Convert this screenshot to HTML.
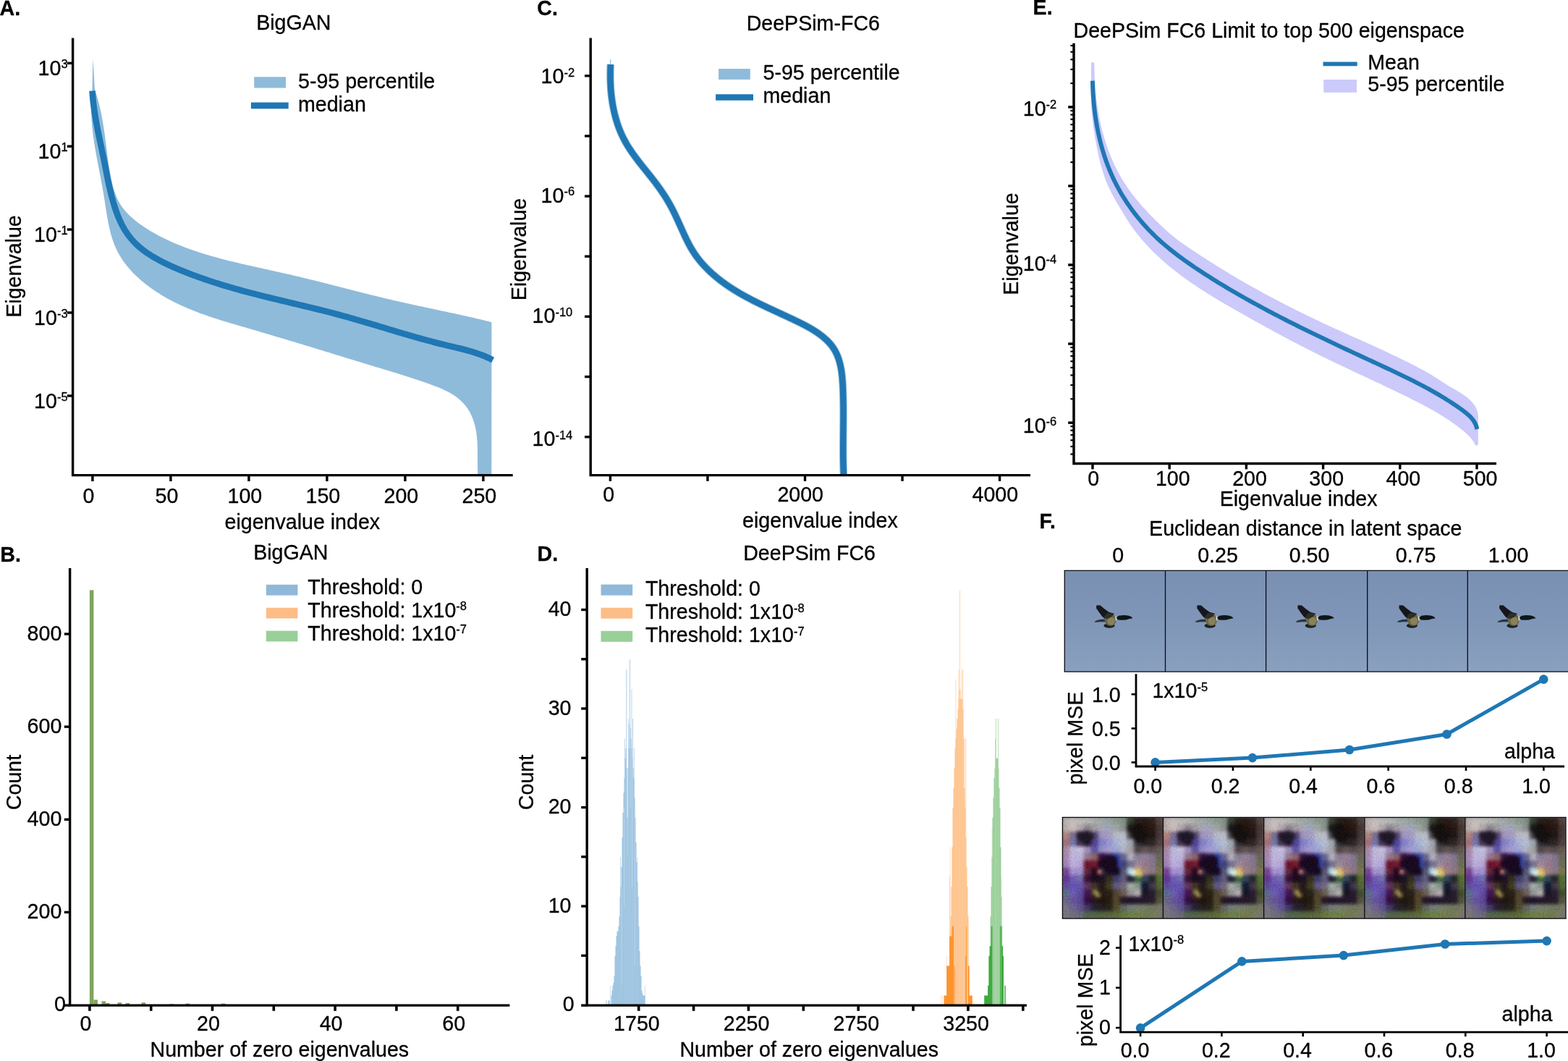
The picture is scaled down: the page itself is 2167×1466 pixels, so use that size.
<!DOCTYPE html>
<html lang="en"><head><meta charset="utf-8"><title>Figure: Hessian eigenvalue spectra</title>
<style>html,body{margin:0;padding:0;background:#fff}body{width:2167px;height:1466px;overflow:hidden}svg{display:block}text{font-family:"Liberation Sans",Arial,Helvetica,sans-serif;font-size:28.6px;fill:#000;stroke:#000;stroke-width:0.3px;stroke-linejoin:round}</style>
</head><body>
<svg xmlns="http://www.w3.org/2000/svg" width="2167" height="1466" viewBox="0 0 2167 1466">
<rect width="2167" height="1466" fill="#fff"/>
<defs>
<linearGradient id="sky" x1="0" y1="0" x2="0" y2="1"><stop offset="0" stop-color="#7a90b3"/><stop offset="0.5" stop-color="#8096b8"/><stop offset="1" stop-color="#8aa0be"/></linearGradient>
<filter id="b1" x="-20%" y="-20%" width="140%" height="140%"><feGaussianBlur stdDeviation="0.55"/></filter>
<g id="bird" filter="url(#b1)">
<path d="M1512.2 859.8L1514.6 857.4L1520 856.1L1527 855.6L1527.5 859.2L1521 859.2L1515.5 859.8Z" fill="#2a3438"/>
<path d="M1515.4 836.3L1520.8 836.6L1526 841L1532.5 845.8L1539.5 847.8L1538 853.5L1528 856L1523 851.4L1518.6 845.4L1515 840.2Z" fill="#15181c"/>
<ellipse cx="1533" cy="864.6" rx="7.6" ry="3.2" fill="#1a2022"/>
<ellipse cx="1534.8" cy="856.6" rx="8.2" ry="8.2" fill="#6a6548"/>
<ellipse cx="1535.6" cy="858" rx="5.2" ry="5.6" fill="#89805c"/>
<path d="M1525.6 852.6L1530 847L1539.5 847.8L1537 851.8L1530 855.6Z" fill="#2e2f28"/>
<path d="M1541.3 851.2L1542.9 851.7L1543 857.6L1541.6 857.2Z" fill="#e4e6d2"/>
<path d="M1542.9 853.2L1546 850.7L1552.5 849.9L1559 850.4L1563.2 852.1L1565.5 854.3L1561 855.1L1556 856.5L1550.7 856.8L1545 856.5Z" fill="#101318"/>
</g>
<filter id="gb" x="-5%" y="-5%" width="110%" height="110%" color-interpolation-filters="sRGB"><feGaussianBlur in="SourceGraphic" stdDeviation="1.9" result="b"/><feTurbulence type="fractalNoise" baseFrequency="0.45" numOctaves="2" seed="7" result="n"/><feColorMatrix in="n" type="matrix" values="0.6 0.3 0.1 0 0  0.2 0.6 0.2 0 0  0.1 0.3 0.6 0 0  0 0 0 0 1" result="g"/><feComposite in="b" in2="g" operator="arithmetic" k1="0" k2="1" k3="0.22" k4="-0.11" result="c"/><feComponentTransfer in="c"><feFuncR type="gamma" exponent="1.3" amplitude="1" offset="0"/><feFuncG type="gamma" exponent="1.35" amplitude="1" offset="0"/><feFuncB type="gamma" exponent="1.25" amplitude="1" offset="0"/></feComponentTransfer></filter>
<clipPath id="gc"><rect x="1468.4" y="1129.4" width="139.0" height="139.8"/></clipPath>
<g id="gan" clip-path="url(#gc)">
<rect x="1468.4" y="1129.4" width="139.0" height="139.8" fill="#7b7390"/>
<g filter="url(#gb)">
<rect x="1460.4" y="1121.4" width="155.0" height="155.8" fill="#8a8690"/>
<rect x="1468.1" y="1129.1" width="10.53" height="10.59" fill="#c8c4c0"/>
<rect x="1478.03" y="1129.1" width="10.53" height="10.59" fill="#d0ccc8"/>
<rect x="1487.96" y="1129.1" width="10.53" height="10.59" fill="#cccac4"/>
<rect x="1497.89" y="1129.1" width="10.53" height="10.59" fill="#c4c8c0"/>
<rect x="1507.81" y="1129.1" width="10.53" height="10.59" fill="#b8c0b8"/>
<rect x="1517.74" y="1129.1" width="10.53" height="10.59" fill="#b0bcb4"/>
<rect x="1527.67" y="1129.1" width="10.53" height="10.59" fill="#a8b8ac"/>
<rect x="1537.6" y="1129.1" width="10.53" height="10.59" fill="#a0b0a0"/>
<rect x="1547.53" y="1129.1" width="10.53" height="10.59" fill="#98a898"/>
<rect x="1557.46" y="1129.1" width="10.53" height="10.59" fill="#4a5840"/>
<rect x="1567.39" y="1129.1" width="10.53" height="10.59" fill="#3c3428"/>
<rect x="1577.31" y="1129.1" width="10.53" height="10.59" fill="#3c3024"/>
<rect x="1587.24" y="1129.1" width="10.53" height="10.59" fill="#44382c"/>
<rect x="1597.17" y="1129.1" width="10.53" height="10.59" fill="#6a5e50"/>
<rect x="1468.1" y="1139.09" width="10.53" height="10.59" fill="#c8c0b8"/>
<rect x="1478.03" y="1139.09" width="10.53" height="10.59" fill="#d4ccc8"/>
<rect x="1487.96" y="1139.09" width="10.53" height="10.59" fill="#c0b8b8"/>
<rect x="1497.89" y="1139.09" width="10.53" height="10.59" fill="#a09ca0"/>
<rect x="1507.81" y="1139.09" width="10.53" height="10.59" fill="#b4b0b0"/>
<rect x="1517.74" y="1139.09" width="10.53" height="10.59" fill="#b8b8c4"/>
<rect x="1527.67" y="1139.09" width="10.53" height="10.59" fill="#b4b8c8"/>
<rect x="1537.6" y="1139.09" width="10.53" height="10.59" fill="#b0b8b0"/>
<rect x="1547.53" y="1139.09" width="10.53" height="10.59" fill="#a0a8a0"/>
<rect x="1557.46" y="1139.09" width="10.53" height="10.59" fill="#2c2c26"/>
<rect x="1567.39" y="1139.09" width="10.53" height="10.59" fill="#1c1a14"/>
<rect x="1577.31" y="1139.09" width="10.53" height="10.59" fill="#382418"/>
<rect x="1587.24" y="1139.09" width="10.53" height="10.59" fill="#3c2c24"/>
<rect x="1597.17" y="1139.09" width="10.53" height="10.59" fill="#5c5044"/>
<rect x="1468.1" y="1149.07" width="10.53" height="10.59" fill="#c0a090"/>
<rect x="1478.03" y="1149.07" width="10.53" height="10.59" fill="#9088a0"/>
<rect x="1487.96" y="1149.07" width="10.53" height="10.59" fill="#3a3040"/>
<rect x="1497.89" y="1149.07" width="10.53" height="10.59" fill="#2a2430"/>
<rect x="1507.81" y="1149.07" width="10.53" height="10.59" fill="#6a6080"/>
<rect x="1517.74" y="1149.07" width="10.53" height="10.59" fill="#b0aac8"/>
<rect x="1527.67" y="1149.07" width="10.53" height="10.59" fill="#b8b0cc"/>
<rect x="1537.6" y="1149.07" width="10.53" height="10.59" fill="#c4c8d0"/>
<rect x="1547.53" y="1149.07" width="10.53" height="10.59" fill="#c8ccd0"/>
<rect x="1557.46" y="1149.07" width="10.53" height="10.59" fill="#606460"/>
<rect x="1567.39" y="1149.07" width="10.53" height="10.59" fill="#1c1e18"/>
<rect x="1577.31" y="1149.07" width="10.53" height="10.59" fill="#2a221c"/>
<rect x="1587.24" y="1149.07" width="10.53" height="10.59" fill="#342a26"/>
<rect x="1597.17" y="1149.07" width="10.53" height="10.59" fill="#5e524a"/>
<rect x="1468.1" y="1159.06" width="10.53" height="10.59" fill="#b88888"/>
<rect x="1478.03" y="1159.06" width="10.53" height="10.59" fill="#8890b8"/>
<rect x="1487.96" y="1159.06" width="10.53" height="10.59" fill="#5a4c60"/>
<rect x="1497.89" y="1159.06" width="10.53" height="10.59" fill="#3a2c40"/>
<rect x="1507.81" y="1159.06" width="10.53" height="10.59" fill="#6860a8"/>
<rect x="1517.74" y="1159.06" width="10.53" height="10.59" fill="#9898d0"/>
<rect x="1527.67" y="1159.06" width="10.53" height="10.59" fill="#a8acd8"/>
<rect x="1537.6" y="1159.06" width="10.53" height="10.59" fill="#b8c4dc"/>
<rect x="1547.53" y="1159.06" width="10.53" height="10.59" fill="#c4ccd8"/>
<rect x="1557.46" y="1159.06" width="10.53" height="10.59" fill="#b0b8bc"/>
<rect x="1567.39" y="1159.06" width="10.53" height="10.59" fill="#484c4c"/>
<rect x="1577.31" y="1159.06" width="10.53" height="10.59" fill="#3c3632"/>
<rect x="1587.24" y="1159.06" width="10.53" height="10.59" fill="#443c36"/>
<rect x="1597.17" y="1159.06" width="10.53" height="10.59" fill="#665a52"/>
<rect x="1468.1" y="1169.04" width="10.53" height="10.59" fill="#b8a0b0"/>
<rect x="1478.03" y="1169.04" width="10.53" height="10.59" fill="#c8c8e0"/>
<rect x="1487.96" y="1169.04" width="10.53" height="10.59" fill="#d0cce4"/>
<rect x="1497.89" y="1169.04" width="10.53" height="10.59" fill="#b0a4c4"/>
<rect x="1507.81" y="1169.04" width="10.53" height="10.59" fill="#7870b0"/>
<rect x="1517.74" y="1169.04" width="10.53" height="10.59" fill="#a8a4d0"/>
<rect x="1527.67" y="1169.04" width="10.53" height="10.59" fill="#b4b0d8"/>
<rect x="1537.6" y="1169.04" width="10.53" height="10.59" fill="#b0b8d8"/>
<rect x="1547.53" y="1169.04" width="10.53" height="10.59" fill="#c0c4d0"/>
<rect x="1557.46" y="1169.04" width="10.53" height="10.59" fill="#b4b4b4"/>
<rect x="1567.39" y="1169.04" width="10.53" height="10.59" fill="#6a605c"/>
<rect x="1577.31" y="1169.04" width="10.53" height="10.59" fill="#7a7068"/>
<rect x="1587.24" y="1169.04" width="10.53" height="10.59" fill="#6c6860"/>
<rect x="1597.17" y="1169.04" width="10.53" height="10.59" fill="#7c7464"/>
<rect x="1468.1" y="1179.03" width="10.53" height="10.59" fill="#b8a0c0"/>
<rect x="1478.03" y="1179.03" width="10.53" height="10.59" fill="#ccc4e0"/>
<rect x="1487.96" y="1179.03" width="10.53" height="10.59" fill="#c8c4e0"/>
<rect x="1497.89" y="1179.03" width="10.53" height="10.59" fill="#a8909c"/>
<rect x="1507.81" y="1179.03" width="10.53" height="10.59" fill="#a08078"/>
<rect x="1517.74" y="1179.03" width="10.53" height="10.59" fill="#4a2450"/>
<rect x="1527.67" y="1179.03" width="10.53" height="10.59" fill="#5a3c78"/>
<rect x="1537.6" y="1179.03" width="10.53" height="10.59" fill="#4858a0"/>
<rect x="1547.53" y="1179.03" width="10.53" height="10.59" fill="#8080a0"/>
<rect x="1557.46" y="1179.03" width="10.53" height="10.59" fill="#c0c0c4"/>
<rect x="1567.39" y="1179.03" width="10.53" height="10.59" fill="#9c98a8"/>
<rect x="1577.31" y="1179.03" width="10.53" height="10.59" fill="#a898a8"/>
<rect x="1587.24" y="1179.03" width="10.53" height="10.59" fill="#9890a0"/>
<rect x="1597.17" y="1179.03" width="10.53" height="10.59" fill="#80806c"/>
<rect x="1468.1" y="1189.01" width="10.53" height="10.59" fill="#b09cc0"/>
<rect x="1478.03" y="1189.01" width="10.53" height="10.59" fill="#c8c0e0"/>
<rect x="1487.96" y="1189.01" width="10.53" height="10.59" fill="#c4b8dc"/>
<rect x="1497.89" y="1189.01" width="10.53" height="10.59" fill="#802840"/>
<rect x="1507.81" y="1189.01" width="10.53" height="10.59" fill="#8c3040"/>
<rect x="1517.74" y="1189.01" width="10.53" height="10.59" fill="#2a1030"/>
<rect x="1527.67" y="1189.01" width="10.53" height="10.59" fill="#1c0c28"/>
<rect x="1537.6" y="1189.01" width="10.53" height="10.59" fill="#141030"/>
<rect x="1547.53" y="1189.01" width="10.53" height="10.59" fill="#5a5c88"/>
<rect x="1557.46" y="1189.01" width="10.53" height="10.59" fill="#8a8aa0"/>
<rect x="1567.39" y="1189.01" width="10.53" height="10.59" fill="#b0a0a8"/>
<rect x="1577.31" y="1189.01" width="10.53" height="10.59" fill="#a8949c"/>
<rect x="1587.24" y="1189.01" width="10.53" height="10.59" fill="#9c90a0"/>
<rect x="1597.17" y="1189.01" width="10.53" height="10.59" fill="#808868"/>
<rect x="1468.1" y="1199" width="10.53" height="10.59" fill="#8a60a0"/>
<rect x="1478.03" y="1199" width="10.53" height="10.59" fill="#b8a8d8"/>
<rect x="1487.96" y="1199" width="10.53" height="10.59" fill="#b0a8d4"/>
<rect x="1497.89" y="1199" width="10.53" height="10.59" fill="#7a3c4c"/>
<rect x="1507.81" y="1199" width="10.53" height="10.59" fill="#3a1430"/>
<rect x="1517.74" y="1199" width="10.53" height="10.59" fill="#4a3c50"/>
<rect x="1527.67" y="1199" width="10.53" height="10.59" fill="#2a2030"/>
<rect x="1537.6" y="1199" width="10.53" height="10.59" fill="#201830"/>
<rect x="1547.53" y="1199" width="10.53" height="10.59" fill="#707088"/>
<rect x="1557.46" y="1199" width="10.53" height="10.59" fill="#c0e0e0"/>
<rect x="1567.39" y="1199" width="10.53" height="10.59" fill="#e0c880"/>
<rect x="1577.31" y="1199" width="10.53" height="10.59" fill="#b09890"/>
<rect x="1587.24" y="1199" width="10.53" height="10.59" fill="#a09098"/>
<rect x="1597.17" y="1199" width="10.53" height="10.59" fill="#909060"/>
<rect x="1468.1" y="1208.99" width="10.53" height="10.59" fill="#7a50a0"/>
<rect x="1478.03" y="1208.99" width="10.53" height="10.59" fill="#8878c0"/>
<rect x="1487.96" y="1208.99" width="10.53" height="10.59" fill="#8888b8"/>
<rect x="1497.89" y="1208.99" width="10.53" height="10.59" fill="#4a2448"/>
<rect x="1507.81" y="1208.99" width="10.53" height="10.59" fill="#2c1a2c"/>
<rect x="1517.74" y="1208.99" width="10.53" height="10.59" fill="#2e2432"/>
<rect x="1527.67" y="1208.99" width="10.53" height="10.59" fill="#4a4830"/>
<rect x="1537.6" y="1208.99" width="10.53" height="10.59" fill="#5a5a80"/>
<rect x="1547.53" y="1208.99" width="10.53" height="10.59" fill="#787890"/>
<rect x="1557.46" y="1208.99" width="10.53" height="10.59" fill="#3a3848"/>
<rect x="1567.39" y="1208.99" width="10.53" height="10.59" fill="#508050"/>
<rect x="1577.31" y="1208.99" width="10.53" height="10.59" fill="#486070"/>
<rect x="1587.24" y="1208.99" width="10.53" height="10.59" fill="#384038"/>
<rect x="1597.17" y="1208.99" width="10.53" height="10.59" fill="#6a8848"/>
<rect x="1468.1" y="1218.97" width="10.53" height="10.59" fill="#7868a8"/>
<rect x="1478.03" y="1218.97" width="10.53" height="10.59" fill="#7c70c0"/>
<rect x="1487.96" y="1218.97" width="10.53" height="10.59" fill="#8070b8"/>
<rect x="1497.89" y="1218.97" width="10.53" height="10.59" fill="#7a5070"/>
<rect x="1507.81" y="1218.97" width="10.53" height="10.59" fill="#5a5038"/>
<rect x="1517.74" y="1218.97" width="10.53" height="10.59" fill="#3a2e2c"/>
<rect x="1527.67" y="1218.97" width="10.53" height="10.59" fill="#5a582e"/>
<rect x="1537.6" y="1218.97" width="10.53" height="10.59" fill="#787498"/>
<rect x="1547.53" y="1218.97" width="10.53" height="10.59" fill="#8a8490"/>
<rect x="1557.46" y="1218.97" width="10.53" height="10.59" fill="#b0c0b0"/>
<rect x="1567.39" y="1218.97" width="10.53" height="10.59" fill="#a0a8a0"/>
<rect x="1577.31" y="1218.97" width="10.53" height="10.59" fill="#203040"/>
<rect x="1587.24" y="1218.97" width="10.53" height="10.59" fill="#5a5060"/>
<rect x="1597.17" y="1218.97" width="10.53" height="10.59" fill="#6a8048"/>
<rect x="1468.1" y="1228.96" width="10.53" height="10.59" fill="#708898"/>
<rect x="1478.03" y="1228.96" width="10.53" height="10.59" fill="#8478c0"/>
<rect x="1487.96" y="1228.96" width="10.53" height="10.59" fill="#7868b0"/>
<rect x="1497.89" y="1228.96" width="10.53" height="10.59" fill="#5a2868"/>
<rect x="1507.81" y="1228.96" width="10.53" height="10.59" fill="#5a5034"/>
<rect x="1517.74" y="1228.96" width="10.53" height="10.59" fill="#3a3224"/>
<rect x="1527.67" y="1228.96" width="10.53" height="10.59" fill="#3c3826"/>
<rect x="1537.6" y="1228.96" width="10.53" height="10.59" fill="#6a6044"/>
<rect x="1547.53" y="1228.96" width="10.53" height="10.59" fill="#807868"/>
<rect x="1557.46" y="1228.96" width="10.53" height="10.59" fill="#a8a8a8"/>
<rect x="1567.39" y="1228.96" width="10.53" height="10.59" fill="#c0c0b8"/>
<rect x="1577.31" y="1228.96" width="10.53" height="10.59" fill="#2c2834"/>
<rect x="1587.24" y="1228.96" width="10.53" height="10.59" fill="#3c3444"/>
<rect x="1597.17" y="1228.96" width="10.53" height="10.59" fill="#5a6840"/>
<rect x="1468.1" y="1238.94" width="10.53" height="10.59" fill="#808098"/>
<rect x="1478.03" y="1238.94" width="10.53" height="10.59" fill="#8070a8"/>
<rect x="1487.96" y="1238.94" width="10.53" height="10.59" fill="#7464a8"/>
<rect x="1497.89" y="1238.94" width="10.53" height="10.59" fill="#4a2054"/>
<rect x="1507.81" y="1238.94" width="10.53" height="10.59" fill="#3c2c2c"/>
<rect x="1517.74" y="1238.94" width="10.53" height="10.59" fill="#32291c"/>
<rect x="1527.67" y="1238.94" width="10.53" height="10.59" fill="#3a321e"/>
<rect x="1537.6" y="1238.94" width="10.53" height="10.59" fill="#6c6440"/>
<rect x="1547.53" y="1238.94" width="10.53" height="10.59" fill="#3c2e32"/>
<rect x="1557.46" y="1238.94" width="10.53" height="10.59" fill="#32263a"/>
<rect x="1567.39" y="1238.94" width="10.53" height="10.59" fill="#362a3c"/>
<rect x="1577.31" y="1238.94" width="10.53" height="10.59" fill="#382c3c"/>
<rect x="1587.24" y="1238.94" width="10.53" height="10.59" fill="#3c323c"/>
<rect x="1597.17" y="1238.94" width="10.53" height="10.59" fill="#6a7050"/>
<rect x="1468.1" y="1248.93" width="10.53" height="10.59" fill="#8c8c98"/>
<rect x="1478.03" y="1248.93" width="10.53" height="10.59" fill="#8480a0"/>
<rect x="1487.96" y="1248.93" width="10.53" height="10.59" fill="#7870a0"/>
<rect x="1497.89" y="1248.93" width="10.53" height="10.59" fill="#5a5078"/>
<rect x="1507.81" y="1248.93" width="10.53" height="10.59" fill="#3c3a48"/>
<rect x="1517.74" y="1248.93" width="10.53" height="10.59" fill="#3a3634"/>
<rect x="1527.67" y="1248.93" width="10.53" height="10.59" fill="#3e3a2c"/>
<rect x="1537.6" y="1248.93" width="10.53" height="10.59" fill="#6a6840"/>
<rect x="1547.53" y="1248.93" width="10.53" height="10.59" fill="#788078"/>
<rect x="1557.46" y="1248.93" width="10.53" height="10.59" fill="#889488"/>
<rect x="1567.39" y="1248.93" width="10.53" height="10.59" fill="#8c9880"/>
<rect x="1577.31" y="1248.93" width="10.53" height="10.59" fill="#8a9478"/>
<rect x="1587.24" y="1248.93" width="10.53" height="10.59" fill="#889070"/>
<rect x="1597.17" y="1248.93" width="10.53" height="10.59" fill="#8c9078"/>
<rect x="1468.1" y="1258.91" width="10.53" height="10.59" fill="#909088"/>
<rect x="1478.03" y="1258.91" width="10.53" height="10.59" fill="#888890"/>
<rect x="1487.96" y="1258.91" width="10.53" height="10.59" fill="#808488"/>
<rect x="1497.89" y="1258.91" width="10.53" height="10.59" fill="#688060"/>
<rect x="1507.81" y="1258.91" width="10.53" height="10.59" fill="#6a8058"/>
<rect x="1517.74" y="1258.91" width="10.53" height="10.59" fill="#6c8050"/>
<rect x="1527.67" y="1258.91" width="10.53" height="10.59" fill="#708050"/>
<rect x="1537.6" y="1258.91" width="10.53" height="10.59" fill="#748450"/>
<rect x="1547.53" y="1258.91" width="10.53" height="10.59" fill="#7c9050"/>
<rect x="1557.46" y="1258.91" width="10.53" height="10.59" fill="#84985c"/>
<rect x="1567.39" y="1258.91" width="10.53" height="10.59" fill="#889860"/>
<rect x="1577.31" y="1258.91" width="10.53" height="10.59" fill="#8a9464"/>
<rect x="1587.24" y="1258.91" width="10.53" height="10.59" fill="#8c9468"/>
<rect x="1597.17" y="1258.91" width="10.53" height="10.59" fill="#909080"/>
<ellipse cx="1500.5" cy="1156" rx="11" ry="8" fill="#332c3a"/>
<ellipse cx="1573" cy="1153" rx="9" ry="12" fill="#24221c" transform="rotate(-35 1573 1153)"/>
<ellipse cx="1534" cy="1193" rx="13" ry="11" fill="#2a1630"/>
<rect x="1544.5" y="1182" width="4" height="17" fill="#4a66c4"/>
<path d="M1509 1231l6-2 7 9-5 3z" fill="#b4ac66"/>
<ellipse cx="1566.5" cy="1207" rx="5" ry="4" fill="#e8f2ea"/>
<ellipse cx="1575" cy="1208" rx="4.5" ry="4" fill="#e6cf74"/>
<ellipse cx="1519.5" cy="1204.5" rx="3" ry="3.5" fill="#e2a688"/>
</g>
</g>
</defs>
<text x="-0.5" y="20.6" font-weight="bold">A.</text>
<text x="405.8" y="41.3" text-anchor="middle">BigGAN</text>
<path d="M127.4 126L128.3 81.3L129.6 100L131.01 124.09L132.33 127.97L133.58 131.85L134.74 135.74L135.84 139.63L136.86 143.52L137.82 147.42L138.72 151.33L139.57 155.24L140.36 159.16L141.11 163.09L141.81 167.02L142.48 170.95L143.11 174.89L143.71 178.84L144.29 182.79L144.84 186.75L145.38 190.72L145.9 194.69L146.41 198.67L146.93 202.65L147.44 206.64L147.95 210.64L148.47 214.64L149.01 218.65L149.56 222.67L150.14 226.7L150.74 230.73L151.37 234.76L152.04 238.81L152.75 242.84L153.53 246.86L154.39 250.85L155.33 254.8L156.36 258.71L157.51 262.57L158.79 266.36L160.19 270.07L161.75 273.7L163.46 277.24L165.35 280.68L167.42 284L169.68 287.2L172.11 290.29L174.7 293.27L177.43 296.15L180.3 298.93L183.29 301.62L186.38 304.21L189.56 306.72L192.82 309.15L196.14 311.51L199.52 313.79L202.93 316L206.38 318.16L209.86 320.24L213.37 322.27L216.91 324.24L220.48 326.14L224.08 328L227.7 329.79L231.35 331.54L235.02 333.23L238.71 334.88L242.42 336.47L246.15 338.02L249.9 339.53L253.66 341L257.44 342.42L261.23 343.8L265.03 345.15L268.85 346.46L272.67 347.74L276.5 348.98L280.34 350.2L284.18 351.38L288.04 352.53L291.89 353.66L295.76 354.76L299.63 355.84L303.51 356.9L307.39 357.93L311.28 358.94L315.17 359.93L319.07 360.91L322.97 361.87L326.87 362.81L330.78 363.74L334.69 364.66L338.61 365.56L342.52 366.46L346.44 367.34L350.36 368.22L354.29 369.09L358.21 369.96L362.14 370.83L366.06 371.69L369.99 372.55L373.92 373.41L377.84 374.28L381.77 375.14L385.7 376.01L389.62 376.89L393.54 377.77L397.47 378.67L401.39 379.57L405.3 380.48L409.22 381.4L413.13 382.33L417.04 383.27L420.96 384.22L424.86 385.17L428.77 386.13L432.68 387.1L436.58 388.07L440.49 389.05L444.39 390.04L448.29 391.02L452.19 392.01L456.09 393.01L460 394L463.9 395L467.8 396L471.7 397L475.6 398L479.5 399L483.4 400L487.3 401L491.2 402L495.1 402.99L499 403.98L502.91 404.97L506.81 405.95L510.72 406.92L514.62 407.9L518.53 408.86L522.44 409.82L526.35 410.77L530.26 411.72L534.18 412.66L538.09 413.58L542.01 414.5L545.93 415.41L549.86 416.31L553.78 417.2L557.71 418.08L561.64 418.96L565.57 419.83L569.5 420.69L573.43 421.55L577.36 422.4L581.3 423.25L585.23 424.09L589.16 424.94L593.1 425.78L597.03 426.61L600.97 427.45L604.9 428.29L608.84 429.13L612.77 429.97L616.71 430.82L620.64 431.66L624.57 432.51L628.5 433.37L632.43 434.23L636.36 435.09L640.28 435.96L644.21 436.84L648.13 437.73L652.05 438.62L655.97 439.52L659.88 440.44L663.8 441.36L667.71 442.3L671.61 443.24L675.52 444.2L679.42 445.17L679.3 655.2L660.34 655.08L660.18 651.32L660.08 647.48L660.04 643.57L660.03 639.6L660.04 635.58L660.05 631.51L660.05 627.41L660.02 623.29L659.95 619.14L659.82 614.99L659.61 610.84L659.32 606.69L658.91 602.57L658.39 598.47L657.73 594.4L656.92 590.38L655.94 586.42L654.79 582.51L653.45 578.69L651.93 574.97L650.22 571.35L648.32 567.86L646.22 564.51L643.92 561.32L641.42 558.28L638.73 555.41L635.88 552.7L632.86 550.14L629.7 547.74L626.4 545.49L622.99 543.4L619.47 541.46L615.86 539.66L612.18 537.97L608.44 536.37L604.66 534.86L600.86 533.39L597.04 531.96L593.23 530.55L589.4 529.18L585.58 527.83L581.74 526.5L577.9 525.2L574.06 523.92L570.22 522.66L566.37 521.41L562.52 520.18L558.67 518.96L554.81 517.75L550.95 516.56L547.09 515.37L543.23 514.19L539.37 513.02L535.51 511.84L531.65 510.67L527.79 509.5L523.93 508.33L520.07 507.16L516.21 505.98L512.35 504.81L508.49 503.63L504.63 502.45L500.77 501.28L496.91 500.1L493.05 498.92L489.19 497.74L485.34 496.56L481.48 495.38L477.62 494.2L473.76 493.02L469.91 491.84L466.05 490.65L462.19 489.47L458.33 488.29L454.47 487.11L450.62 485.93L446.76 484.76L442.9 483.58L439.04 482.4L435.18 481.22L431.32 480.05L427.46 478.87L423.6 477.7L419.74 476.52L415.88 475.35L412.01 474.18L408.15 473.01L404.29 471.85L400.42 470.68L396.56 469.52L392.69 468.35L388.83 467.19L384.96 466.04L381.09 464.88L377.22 463.73L373.35 462.57L369.48 461.43L365.61 460.28L361.74 459.13L357.87 457.99L353.99 456.85L350.12 455.72L346.24 454.59L342.36 453.46L338.48 452.33L334.6 451.2L330.73 450.07L326.85 448.94L322.98 447.8L319.1 446.65L315.24 445.49L311.37 444.32L307.52 443.14L303.67 441.94L299.82 440.72L295.99 439.48L292.16 438.21L288.34 436.92L284.53 435.61L280.74 434.26L276.95 432.88L273.18 431.47L269.42 430.03L265.68 428.54L261.95 427.02L258.24 425.45L254.54 423.85L250.86 422.19L247.2 420.49L243.56 418.73L239.94 416.93L236.34 415.06L232.76 413.15L229.21 411.17L225.67 409.13L222.17 407.03L218.69 404.87L215.26 402.65L211.86 400.36L208.51 398.02L205.2 395.61L201.96 393.13L198.77 390.6L195.64 387.99L192.58 385.33L189.59 382.6L186.68 379.8L183.85 376.94L181.11 374.02L178.46 371.03L175.9 367.97L173.44 364.85L171.08 361.66L168.84 358.4L166.7 355.08L164.68 351.69L162.79 348.23L161.02 344.7L159.38 341.11L157.87 337.45L156.47 333.73L155.19 329.95L154.01 326.12L152.92 322.24L151.92 318.32L150.99 314.37L150.13 310.38L149.33 306.36L148.58 302.32L147.88 298.27L147.2 294.2L146.55 290.12L145.92 286.03L145.3 281.95L144.67 277.87L144.04 273.8L143.39 269.75L142.71 265.71L142.01 261.69L141.3 257.69L140.57 253.71L139.82 249.73L139.07 245.77L138.31 241.82L137.55 237.88L136.79 233.95L136.02 230.02L135.27 226.1L134.52 222.18L133.79 218.27L133.07 214.35L132.37 210.44L131.69 206.53L131.04 202.61L130.41 198.69L129.81 194.76L129.25 190.83L128.72 186.89L128.23 182.94L127.79 178.98L127.39 175.01L127.04 171.02L126.74 167.02L126.49 163.01L126.31 158.97L126.18 154.92L126.12 150.85L126.12 146.76L126.2 142.64L126.35 138.5L126.57 134.33L126.88 130.14L127.27 125.92Z" fill="#8fbbda"/>
<path d="M127.57 125.49L127.83 129.58L128.15 133.64L128.52 137.68L128.95 141.71L129.43 145.71L129.95 149.7L130.51 153.67L131.12 157.63L131.76 161.58L132.43 165.52L133.14 169.45L133.87 173.37L134.62 177.29L135.4 181.2L136.19 185.11L137 189.02L137.81 192.93L138.64 196.84L139.47 200.75L140.3 204.67L141.13 208.59L141.95 212.52L142.77 216.46L143.57 220.41L144.37 224.37L145.15 228.34L145.93 232.32L146.7 236.3L147.49 240.29L148.28 244.28L149.09 248.27L149.92 252.26L150.77 256.24L151.65 260.21L152.57 264.18L153.53 268.13L154.53 272.07L155.59 276L156.69 279.91L157.86 283.8L159.09 287.66L160.39 291.5L161.77 295.3L163.23 299.06L164.78 302.77L166.43 306.41L168.18 310L170.04 313.5L172.02 316.93L174.11 320.27L176.33 323.52L178.67 326.67L181.13 329.72L183.71 332.67L186.41 335.52L189.22 338.26L192.13 340.89L195.15 343.43L198.27 345.87L201.47 348.23L204.75 350.49L208.12 352.68L211.54 354.79L215.04 356.83L218.59 358.8L222.18 360.71L225.82 362.56L229.5 364.35L233.21 366.1L236.94 367.8L240.69 369.46L244.45 371.08L248.21 372.68L251.99 374.24L255.76 375.76L259.55 377.26L263.34 378.73L267.14 380.17L270.94 381.58L274.75 382.96L278.56 384.32L282.38 385.65L286.2 386.96L290.03 388.24L293.86 389.5L297.7 390.74L301.54 391.95L305.39 393.14L309.24 394.32L313.1 395.47L316.96 396.61L320.82 397.73L324.68 398.83L328.55 399.91L332.43 400.98L336.3 402.04L340.18 403.08L344.06 404.11L347.95 405.13L351.83 406.13L355.72 407.13L359.61 408.11L363.51 409.09L367.4 410.05L371.3 411.02L375.19 411.97L379.09 412.92L382.99 413.86L386.9 414.8L390.8 415.74L394.7 416.67L398.6 417.6L402.51 418.53L406.41 419.47L410.32 420.4L414.22 421.33L418.13 422.27L422.03 423.21L425.93 424.15L429.84 425.1L433.74 426.05L437.64 427.01L441.54 427.97L445.44 428.95L449.34 429.93L453.23 430.92L457.13 431.93L461.02 432.94L464.91 433.97L468.8 435L472.68 436.06L476.56 437.12L480.45 438.2L484.32 439.29L488.2 440.39L492.08 441.51L495.95 442.63L499.82 443.76L503.69 444.89L507.56 446.04L511.43 447.18L515.3 448.34L519.17 449.49L523.03 450.65L526.9 451.81L530.77 452.98L534.64 454.14L538.5 455.3L542.37 456.46L546.24 457.61L550.11 458.77L553.98 459.91L557.85 461.06L561.72 462.19L565.6 463.32L569.47 464.44L573.35 465.55L577.23 466.65L581.11 467.74L585 468.82L588.88 469.88L592.77 470.93L596.67 471.97L600.56 472.99L604.46 473.99L608.36 474.98L612.27 475.94L616.18 476.89L620.09 477.82L624 478.74L627.91 479.66L631.82 480.6L635.72 481.55L639.61 482.52L643.48 483.53L647.35 484.59L651.2 485.7L655.03 486.86L658.83 488.1L662.62 489.42L666.38 490.83L670.11 492.33L673.8 493.94L677.47 495.66L681.1 497.51" fill="none" stroke="#1f77b4" stroke-width="8.6"/>
<path d="M100.6 52.6V656.6H708.7" fill="none" stroke="#000" stroke-width="3.4" stroke-linejoin="miter"/>
<line x1="92.8" y1="87.3" x2="100.6" y2="87.3" stroke="#000" stroke-width="3.4"/>
<text x="93.6" y="104.3" text-anchor="end">10<tspan dy="-10.4" font-size="16.5">3</tspan></text>
<line x1="92.8" y1="202.2" x2="100.6" y2="202.2" stroke="#000" stroke-width="3.4"/>
<text x="93.6" y="219.2" text-anchor="end">10<tspan dy="-10.4" font-size="16.5">1</tspan></text>
<line x1="92.8" y1="317.1" x2="100.6" y2="317.1" stroke="#000" stroke-width="3.4"/>
<text x="93.6" y="334.1" text-anchor="end">10<tspan dy="-10.4" font-size="16.5">-1</tspan></text>
<line x1="92.8" y1="432" x2="100.6" y2="432" stroke="#000" stroke-width="3.4"/>
<text x="93.6" y="449" text-anchor="end">10<tspan dy="-10.4" font-size="16.5">-3</tspan></text>
<line x1="92.8" y1="546.9" x2="100.6" y2="546.9" stroke="#000" stroke-width="3.4"/>
<text x="93.6" y="563.9" text-anchor="end">10<tspan dy="-10.4" font-size="16.5">-5</tspan></text>
<line x1="127.9" y1="656.6" x2="127.9" y2="665" stroke="#000" stroke-width="3.4"/>
<text x="122.4" y="694.6" text-anchor="middle">0</text>
<line x1="235.9" y1="656.6" x2="235.9" y2="665" stroke="#000" stroke-width="3.4"/>
<text x="230.4" y="694.6" text-anchor="middle">50</text>
<line x1="343.9" y1="656.6" x2="343.9" y2="665" stroke="#000" stroke-width="3.4"/>
<text x="338.4" y="694.6" text-anchor="middle">100</text>
<line x1="451.9" y1="656.6" x2="451.9" y2="665" stroke="#000" stroke-width="3.4"/>
<text x="446.4" y="694.6" text-anchor="middle">150</text>
<line x1="559.9" y1="656.6" x2="559.9" y2="665" stroke="#000" stroke-width="3.4"/>
<text x="554.4" y="694.6" text-anchor="middle">200</text>
<line x1="667.9" y1="656.6" x2="667.9" y2="665" stroke="#000" stroke-width="3.4"/>
<text x="662.4" y="694.6" text-anchor="middle">250</text>
<text x="417.8" y="731.4" text-anchor="middle">eigenvalue index</text>
<text transform="translate(29.2 368) rotate(-90)" text-anchor="middle">Eigenvalue</text>
<rect x="351.2" y="106.3" width="43.8" height="15.2" fill="#8fbbda"/>
<line x1="346.9" y1="145.9" x2="398.7" y2="145.9" stroke="#1f77b4" stroke-width="8.6"/>
<text x="412" y="121.6">5-95 percentile</text>
<text x="412" y="153.6">median</text>
<text x="742.3" y="20.6" font-weight="bold">C.</text>
<text x="1123.8" y="41.6" text-anchor="middle">DeePSim-FC6</text>
<path d="M843.7 82V90" stroke="#8fbbda" stroke-width="1.2" fill="none"/>
<path d="M843.83 89L843.7 91.69L843.6 94.39L843.52 97.09L843.47 99.8L843.45 102.52L843.45 105.24L843.47 107.97L843.53 110.7L843.61 113.44L843.72 116.17L843.86 118.91L844.03 121.65L844.24 124.38L844.47 127.12L844.73 129.85L845.03 132.58L845.36 135.31L845.73 138.03L846.13 140.74L846.56 143.45L847.03 146.15L847.54 148.84L848.08 151.52L848.67 154.19L849.29 156.85L849.94 159.5L850.64 162.13L851.38 164.75L852.16 167.36L852.98 169.95L853.84 172.52L854.75 175.08L855.69 177.61L856.69 180.13L857.72 182.63L858.8 185.11L859.93 187.56L861.11 190L862.33 192.41L863.6 194.79L864.91 197.15L866.27 199.49L867.67 201.81L869.11 204.11L870.58 206.38L872.09 208.64L873.63 210.89L875.2 213.12L876.8 215.33L878.42 217.53L880.06 219.72L881.72 221.9L883.39 224.08L885.08 226.24L886.78 228.4L888.49 230.55L890.21 232.7L891.93 234.84L893.65 236.99L895.37 239.13L897.09 241.28L898.8 243.43L900.5 245.58L902.19 247.74L903.87 249.9L905.53 252.07L907.17 254.25L908.8 256.44L910.4 258.64L911.99 260.85L913.55 263.07L915.08 265.31L916.6 267.56L918.09 269.82L919.55 272.1L920.98 274.39L922.38 276.7L923.76 279.03L925.1 281.38L926.42 283.75L927.7 286.14L928.96 288.54L930.19 290.95L931.41 293.38L932.6 295.82L933.78 298.27L934.94 300.74L936.09 303.21L937.22 305.69L938.35 308.17L939.48 310.66L940.59 313.15L941.71 315.65L942.83 318.14L943.95 320.64L945.09 323.13L946.23 325.61L947.4 328.08L948.58 330.54L949.79 332.99L951.02 335.42L952.29 337.84L953.59 340.23L954.93 342.6L956.31 344.94L957.74 347.26L959.22 349.55L960.75 351.81L962.33 354.03L963.96 356.23L965.63 358.39L967.35 360.52L969.11 362.62L970.91 364.68L972.75 366.72L974.62 368.72L976.53 370.68L978.47 372.62L980.43 374.52L982.43 376.39L984.45 378.23L986.5 380.03L988.57 381.8L990.66 383.54L992.77 385.24L994.9 386.92L997.05 388.56L999.21 390.18L1001.4 391.76L1003.6 393.32L1005.83 394.86L1008.06 396.36L1010.32 397.85L1012.59 399.3L1014.88 400.74L1017.18 402.15L1019.49 403.55L1021.82 404.92L1024.16 406.27L1026.51 407.61L1028.88 408.92L1031.26 410.22L1033.65 411.51L1036.04 412.78L1038.45 414.03L1040.87 415.27L1043.3 416.5L1045.73 417.72L1048.18 418.93L1050.63 420.13L1053.08 421.32L1055.55 422.5L1058.02 423.67L1060.49 424.84L1062.97 426L1065.45 427.16L1067.94 428.32L1070.43 429.47L1072.92 430.62L1075.41 431.77L1077.91 432.92L1080.4 434.07L1082.9 435.22L1085.4 436.38L1087.89 437.54L1090.39 438.7L1092.88 439.87L1095.37 441.05L1097.86 442.23L1100.34 443.42L1102.82 444.62L1105.29 445.83L1107.76 447.06L1110.21 448.31L1112.66 449.58L1115.08 450.87L1117.49 452.2L1119.89 453.56L1122.26 454.95L1124.6 456.39L1126.92 457.86L1129.22 459.39L1131.48 460.96L1133.7 462.59L1135.89 464.26L1138.02 465.99L1140.09 467.77L1142.1 469.61L1144.03 471.51L1145.89 473.46L1147.66 475.46L1149.33 477.53L1150.91 479.66L1152.37 481.84L1153.73 484.09L1154.98 486.39L1156.13 488.75L1157.19 491.15L1158.15 493.6L1159.03 496.1L1159.83 498.64L1160.55 501.21L1161.19 503.82L1161.77 506.46L1162.29 509.12L1162.74 511.82L1163.14 514.53L1163.49 517.27L1163.79 520.02L1164.05 522.78L1164.28 525.55L1164.47 528.33L1164.64 531.11L1164.78 533.9L1164.9 536.68L1165.01 539.45L1165.11 542.22L1165.2 544.98L1165.27 547.74L1165.33 550.49L1165.39 553.23L1165.43 555.97L1165.47 558.71L1165.5 561.44L1165.52 564.17L1165.53 566.89L1165.54 569.61L1165.54 572.33L1165.54 575.04L1165.53 577.75L1165.52 580.46L1165.5 583.17L1165.48 585.87L1165.46 588.57L1165.44 591.28L1165.42 593.98L1165.39 596.68L1165.37 599.38L1165.35 602.08L1165.32 604.78L1165.3 607.49L1165.29 610.19L1165.27 612.9L1165.26 615.6L1165.26 618.31L1165.26 621.02L1165.26 623.74L1165.27 626.46L1165.29 629.18L1165.31 631.9L1165.34 634.63L1165.38 637.36L1165.43 640.1L1165.49 642.84L1165.56 645.59L1165.64 648.34L1165.73 651.1L1165.84 653.86L1165.95 656.63" fill="none" stroke="#8fbbda" stroke-width="10.4"/>
<path d="M843.83 89L843.7 91.69L843.6 94.39L843.52 97.09L843.47 99.8L843.45 102.52L843.45 105.24L843.47 107.97L843.53 110.7L843.61 113.44L843.72 116.17L843.86 118.91L844.03 121.65L844.24 124.38L844.47 127.12L844.73 129.85L845.03 132.58L845.36 135.31L845.73 138.03L846.13 140.74L846.56 143.45L847.03 146.15L847.54 148.84L848.08 151.52L848.67 154.19L849.29 156.85L849.94 159.5L850.64 162.13L851.38 164.75L852.16 167.36L852.98 169.95L853.84 172.52L854.75 175.08L855.69 177.61L856.69 180.13L857.72 182.63L858.8 185.11L859.93 187.56L861.11 190L862.33 192.41L863.6 194.79L864.91 197.15L866.27 199.49L867.67 201.81L869.11 204.11L870.58 206.38L872.09 208.64L873.63 210.89L875.2 213.12L876.8 215.33L878.42 217.53L880.06 219.72L881.72 221.9L883.39 224.08L885.08 226.24L886.78 228.4L888.49 230.55L890.21 232.7L891.93 234.84L893.65 236.99L895.37 239.13L897.09 241.28L898.8 243.43L900.5 245.58L902.19 247.74L903.87 249.9L905.53 252.07L907.17 254.25L908.8 256.44L910.4 258.64L911.99 260.85L913.55 263.07L915.08 265.31L916.6 267.56L918.09 269.82L919.55 272.1L920.98 274.39L922.38 276.7L923.76 279.03L925.1 281.38L926.42 283.75L927.7 286.14L928.96 288.54L930.19 290.95L931.41 293.38L932.6 295.82L933.78 298.27L934.94 300.74L936.09 303.21L937.22 305.69L938.35 308.17L939.48 310.66L940.59 313.15L941.71 315.65L942.83 318.14L943.95 320.64L945.09 323.13L946.23 325.61L947.4 328.08L948.58 330.54L949.79 332.99L951.02 335.42L952.29 337.84L953.59 340.23L954.93 342.6L956.31 344.94L957.74 347.26L959.22 349.55L960.75 351.81L962.33 354.03L963.96 356.23L965.63 358.39L967.35 360.52L969.11 362.62L970.91 364.68L972.75 366.72L974.62 368.72L976.53 370.68L978.47 372.62L980.43 374.52L982.43 376.39L984.45 378.23L986.5 380.03L988.57 381.8L990.66 383.54L992.77 385.24L994.9 386.92L997.05 388.56L999.21 390.18L1001.4 391.76L1003.6 393.32L1005.83 394.86L1008.06 396.36L1010.32 397.85L1012.59 399.3L1014.88 400.74L1017.18 402.15L1019.49 403.55L1021.82 404.92L1024.16 406.27L1026.51 407.61L1028.88 408.92L1031.26 410.22L1033.65 411.51L1036.04 412.78L1038.45 414.03L1040.87 415.27L1043.3 416.5L1045.73 417.72L1048.18 418.93L1050.63 420.13L1053.08 421.32L1055.55 422.5L1058.02 423.67L1060.49 424.84L1062.97 426L1065.45 427.16L1067.94 428.32L1070.43 429.47L1072.92 430.62L1075.41 431.77L1077.91 432.92L1080.4 434.07L1082.9 435.22L1085.4 436.38L1087.89 437.54L1090.39 438.7L1092.88 439.87L1095.37 441.05L1097.86 442.23L1100.34 443.42L1102.82 444.62L1105.29 445.83L1107.76 447.06L1110.21 448.31L1112.66 449.58L1115.08 450.87L1117.49 452.2L1119.89 453.56L1122.26 454.95L1124.6 456.39L1126.92 457.86L1129.22 459.39L1131.48 460.96L1133.7 462.59L1135.89 464.26L1138.02 465.99L1140.09 467.77L1142.1 469.61L1144.03 471.51L1145.89 473.46L1147.66 475.46L1149.33 477.53L1150.91 479.66L1152.37 481.84L1153.73 484.09L1154.98 486.39L1156.13 488.75L1157.19 491.15L1158.15 493.6L1159.03 496.1L1159.83 498.64L1160.55 501.21L1161.19 503.82L1161.77 506.46L1162.29 509.12L1162.74 511.82L1163.14 514.53L1163.49 517.27L1163.79 520.02L1164.05 522.78L1164.28 525.55L1164.47 528.33L1164.64 531.11L1164.78 533.9L1164.9 536.68L1165.01 539.45L1165.11 542.22L1165.2 544.98L1165.27 547.74L1165.33 550.49L1165.39 553.23L1165.43 555.97L1165.47 558.71L1165.5 561.44L1165.52 564.17L1165.53 566.89L1165.54 569.61L1165.54 572.33L1165.54 575.04L1165.53 577.75L1165.52 580.46L1165.5 583.17L1165.48 585.87L1165.46 588.57L1165.44 591.28L1165.42 593.98L1165.39 596.68L1165.37 599.38L1165.35 602.08L1165.32 604.78L1165.3 607.49L1165.29 610.19L1165.27 612.9L1165.26 615.6L1165.26 618.31L1165.26 621.02L1165.26 623.74L1165.27 626.46L1165.29 629.18L1165.31 631.9L1165.34 634.63L1165.38 637.36L1165.43 640.1L1165.49 642.84L1165.56 645.59L1165.64 648.34L1165.73 651.1L1165.84 653.86L1165.95 656.63" fill="none" stroke="#1f77b4" stroke-width="8.4"/>
<path d="M816.2 52.6V656.6H1424" fill="none" stroke="#000" stroke-width="3.4" stroke-linejoin="miter"/>
<line x1="808" y1="104.8" x2="816.2" y2="104.8" stroke="#000" stroke-width="3.4"/>
<line x1="808" y1="187.95" x2="816.2" y2="187.95" stroke="#000" stroke-width="3.4"/>
<line x1="808" y1="271.1" x2="816.2" y2="271.1" stroke="#000" stroke-width="3.4"/>
<line x1="808" y1="354.25" x2="816.2" y2="354.25" stroke="#000" stroke-width="3.4"/>
<line x1="808" y1="437.4" x2="816.2" y2="437.4" stroke="#000" stroke-width="3.4"/>
<line x1="808" y1="520.55" x2="816.2" y2="520.55" stroke="#000" stroke-width="3.4"/>
<line x1="808" y1="603.7" x2="816.2" y2="603.7" stroke="#000" stroke-width="3.4"/>
<text x="747.6" y="115.4">10<tspan dy="-9.6" font-size="16.5">-2</tspan></text>
<text x="747.6" y="279.5">10<tspan dy="-9.6" font-size="16.5">-6</tspan></text>
<text x="735.6" y="446.3">10<tspan dy="-9.6" font-size="16.5">-10</tspan></text>
<text x="735.6" y="616.2">10<tspan dy="-9.6" font-size="16.5">-14</tspan></text>
<line x1="843.4" y1="656.6" x2="843.4" y2="664.8" stroke="#000" stroke-width="3.4"/>
<text x="841.1" y="693" text-anchor="middle">0</text>
<line x1="977.95" y1="656.6" x2="977.95" y2="664.8" stroke="#000" stroke-width="3.4"/>
<line x1="1112.5" y1="656.6" x2="1112.5" y2="664.8" stroke="#000" stroke-width="3.4"/>
<text x="1106.2" y="693" text-anchor="middle">2000</text>
<line x1="1247.05" y1="656.6" x2="1247.05" y2="664.8" stroke="#000" stroke-width="3.4"/>
<line x1="1381.6" y1="656.6" x2="1381.6" y2="664.8" stroke="#000" stroke-width="3.4"/>
<text x="1375.3" y="693" text-anchor="middle">4000</text>
<text x="1133.4" y="728.8" text-anchor="middle">eigenvalue index</text>
<text transform="translate(726.8 344.5) rotate(-90)" text-anchor="middle">Eigenvalue</text>
<rect x="993.1" y="95.1" width="43.7" height="14.8" fill="#8fbbda"/>
<line x1="989.1" y1="134.5" x2="1041" y2="134.5" stroke="#1f77b4" stroke-width="8.6"/>
<text x="1054.5" y="110.2">5-95 percentile</text>
<text x="1054.5" y="141.6">median</text>
<text x="1427.6" y="20.2" font-weight="bold">E.</text>
<text x="1483.5" y="52">DeePSim FC6 Limit to top 500 eigenspace</text>
<path d="M1507.9 111.6L1508.1 87.5Q1510.1 84 1512.1 87.5L1512.37 87.11L1512.39 91.08L1512.44 95.06L1512.53 99.05L1512.65 103.04L1512.81 107.05L1513.01 111.06L1513.25 115.07L1513.53 119.09L1513.85 123.11L1514.21 127.13L1514.61 131.15L1515.05 135.17L1515.54 139.19L1516.07 143.2L1516.64 147.21L1517.27 151.21L1517.93 155.2L1518.65 159.19L1519.41 163.16L1520.22 167.13L1521.08 171.08L1521.99 175.02L1522.95 178.95L1523.96 182.86L1525.03 186.75L1526.14 190.63L1527.31 194.49L1528.54 198.33L1529.82 202.15L1531.16 205.94L1532.55 209.71L1534 213.46L1535.51 217.18L1537.08 220.87L1538.71 224.54L1540.4 228.18L1542.15 231.78L1543.96 235.36L1545.84 238.9L1547.78 242.41L1549.78 245.88L1551.85 249.32L1553.98 252.72L1556.18 256.08L1558.44 259.4L1560.76 262.69L1563.13 265.95L1565.56 269.16L1568.04 272.35L1570.57 275.5L1573.14 278.62L1575.76 281.7L1578.42 284.75L1581.11 287.77L1583.84 290.76L1586.61 293.72L1589.4 296.65L1592.22 299.54L1595.07 302.41L1597.94 305.25L1600.83 308.07L1603.73 310.85L1606.66 313.61L1609.59 316.34L1612.53 319.05L1615.51 321.71L1618.52 324.33L1621.6 326.87L1624.74 329.36L1627.93 331.79L1631.16 334.17L1634.44 336.51L1637.75 338.81L1641.08 341.08L1644.44 343.33L1647.8 345.56L1651.18 347.79L1654.55 350L1657.93 352.21L1661.31 354.41L1664.7 356.6L1668.09 358.79L1671.49 360.96L1674.89 363.12L1678.3 365.28L1681.71 367.42L1685.14 369.55L1688.56 371.67L1692 373.77L1695.44 375.87L1698.89 377.95L1702.35 380.02L1705.81 382.07L1709.28 384.12L1712.76 386.15L1716.24 388.18L1719.73 390.19L1723.23 392.19L1726.73 394.18L1730.24 396.16L1733.76 398.12L1737.28 400.08L1740.81 402.02L1744.34 403.96L1747.88 405.88L1751.42 407.79L1754.98 409.7L1758.53 411.59L1762.09 413.47L1765.66 415.34L1769.23 417.21L1772.81 419.06L1776.39 420.9L1779.98 422.73L1783.58 424.56L1787.18 426.37L1790.78 428.17L1794.39 429.97L1798 431.76L1801.62 433.53L1805.24 435.3L1808.87 437.06L1812.5 438.81L1816.13 440.55L1819.77 442.28L1823.41 444.01L1827.06 445.72L1830.71 447.43L1834.37 449.13L1838.03 450.82L1841.69 452.51L1845.36 454.18L1849.03 455.85L1852.7 457.52L1856.37 459.17L1860.05 460.83L1863.73 462.48L1867.41 464.13L1871.09 465.78L1874.77 467.42L1878.45 469.07L1882.12 470.72L1885.8 472.37L1889.48 474.02L1893.15 475.68L1896.82 477.34L1900.49 479L1904.16 480.68L1907.82 482.35L1911.48 484.04L1915.14 485.74L1918.79 487.44L1922.43 489.16L1926.07 490.88L1929.7 492.62L1933.33 494.38L1936.95 496.14L1940.56 497.92L1944.16 499.72L1947.76 501.53L1951.34 503.36L1954.92 505.21L1958.49 507.08L1962.05 508.96L1965.6 510.87L1969.12 512.81L1972.63 514.78L1976.1 516.79L1979.54 518.84L1982.95 520.94L1986.32 523.08L1989.68 525.25L1993.03 527.42L1996.41 529.6L1999.82 531.76L2003.28 533.89L2006.8 535.98L2010.36 538.05L2013.92 540.12L2017.45 542.24L2020.9 544.42L2024.26 546.71L2027.47 549.12L2030.5 551.69L2033.32 554.45L2035.89 557.43L2038.14 560.62L2040.03 564.05L2041.5 567.71L2042.48 571.61L2042.93 575.76L2042.78 580.16L2042.8 613.5Q2041.5 616.5 2039.6 615.6L2038.85 614.66L2036.9 611.07L2034.66 607.74L2032.16 604.62L2029.44 601.69L2026.55 598.92L2023.52 596.28L2020.4 593.73L2017.22 591.25L2014.01 588.83L2010.77 586.45L2007.49 584.13L2004.18 581.85L2000.84 579.61L1997.47 577.42L1994.07 575.27L1990.65 573.15L1987.2 571.08L1983.74 569.04L1980.25 567.03L1976.74 565.05L1973.21 563.1L1969.67 561.18L1966.11 559.28L1962.54 557.41L1958.95 555.55L1955.35 553.72L1951.75 551.9L1948.13 550.1L1944.51 548.31L1940.89 546.53L1937.26 544.76L1933.63 543L1929.99 541.25L1926.35 539.5L1922.72 537.76L1919.08 536.02L1915.43 534.29L1911.79 532.56L1908.15 530.84L1904.5 529.12L1900.85 527.4L1897.21 525.69L1893.56 523.98L1889.91 522.26L1886.27 520.56L1882.62 518.85L1878.98 517.14L1875.33 515.43L1871.69 513.72L1868.04 512L1864.4 510.29L1860.76 508.57L1857.12 506.85L1853.49 505.13L1849.85 503.4L1846.22 501.67L1842.59 499.93L1838.97 498.18L1835.35 496.43L1831.73 494.68L1828.11 492.92L1824.5 491.14L1820.89 489.36L1817.29 487.58L1813.69 485.78L1810.09 483.97L1806.5 482.16L1802.92 480.33L1799.34 478.5L1795.76 476.65L1792.19 474.8L1788.62 472.94L1785.05 471.07L1781.49 469.19L1777.94 467.3L1774.38 465.41L1770.83 463.51L1767.28 461.6L1763.74 459.69L1760.2 457.77L1756.66 455.84L1753.12 453.91L1749.59 451.97L1746.06 450.02L1742.53 448.07L1739 446.12L1735.48 444.16L1731.96 442.2L1728.44 440.23L1724.92 438.26L1721.4 436.28L1717.89 434.3L1714.37 432.32L1710.86 430.33L1707.35 428.34L1703.85 426.34L1700.35 424.33L1696.86 422.31L1693.37 420.29L1689.89 418.25L1686.42 416.19L1682.96 414.13L1679.5 412.05L1676.06 409.96L1672.63 407.85L1669.21 405.72L1665.8 403.58L1662.4 401.41L1659.02 399.23L1655.66 397.02L1652.31 394.79L1648.97 392.54L1645.66 390.26L1642.36 387.96L1639.08 385.63L1635.81 383.28L1632.57 380.89L1629.35 378.48L1626.16 376.03L1622.98 373.56L1619.83 371.05L1616.71 368.51L1613.61 365.94L1610.54 363.33L1607.5 360.69L1604.5 358.02L1601.53 355.31L1598.59 352.56L1595.69 349.77L1592.82 346.95L1590 344.09L1587.22 341.19L1584.48 338.26L1581.78 335.28L1579.13 332.26L1576.52 329.2L1573.96 326.09L1571.45 322.95L1569 319.76L1566.59 316.53L1564.24 313.25L1561.94 309.92L1559.7 306.56L1557.51 303.15L1555.36 299.71L1553.25 296.25L1551.16 292.78L1549.08 289.31L1547.02 285.83L1544.96 282.36L1542.93 278.89L1540.94 275.4L1538.98 271.91L1537.08 268.38L1535.24 264.84L1533.47 261.26L1531.78 257.64L1530.18 253.98L1528.66 250.28L1527.24 246.53L1525.89 242.75L1524.63 238.94L1523.43 235.09L1522.3 231.22L1521.24 227.32L1520.23 223.4L1519.27 219.47L1518.36 215.52L1517.5 211.56L1516.67 207.59L1515.88 203.62L1515.12 199.64L1514.39 195.67L1513.68 191.7L1513 187.72L1512.36 183.75L1511.75 179.78L1511.17 175.8L1510.63 171.82L1510.13 167.84L1509.67 163.86L1509.25 159.87L1508.87 155.88L1508.54 151.89L1508.26 147.89L1508.02 143.88L1507.83 139.87L1507.7 135.85L1507.62 131.82L1507.6 127.78L1507.63 123.74L1507.72 119.69L1507.87 115.63L1508.08 111.56Z" fill="#cbcafa"/>
<path d="M1509.97 111.64L1510.06 115.6L1510.19 119.57L1510.36 123.55L1510.56 127.53L1510.81 131.53L1511.09 135.53L1511.41 139.53L1511.78 143.53L1512.19 147.54L1512.63 151.55L1513.12 155.55L1513.66 159.56L1514.24 163.56L1514.86 167.56L1515.53 171.55L1516.24 175.54L1517.01 179.52L1517.81 183.48L1518.67 187.44L1519.58 191.39L1520.53 195.33L1521.54 199.25L1522.59 203.15L1523.7 207.04L1524.86 210.92L1526.07 214.77L1527.33 218.61L1528.65 222.42L1530.03 226.21L1531.46 229.98L1532.94 233.73L1534.48 237.44L1536.08 241.14L1537.74 244.8L1539.45 248.44L1541.22 252.04L1543.05 255.62L1544.93 259.17L1546.87 262.69L1548.86 266.17L1550.91 269.63L1553.01 273.05L1555.16 276.44L1557.36 279.8L1559.61 283.13L1561.91 286.42L1564.26 289.68L1566.66 292.9L1569.11 296.09L1571.6 299.25L1574.14 302.37L1576.72 305.45L1579.35 308.5L1582.03 311.51L1584.74 314.48L1587.5 317.41L1590.31 320.31L1593.15 323.17L1596.03 325.99L1598.95 328.77L1601.91 331.51L1604.91 334.21L1607.95 336.87L1611.02 339.5L1614.12 342.09L1617.25 344.64L1620.41 347.16L1623.6 349.65L1626.81 352.11L1630.05 354.54L1633.31 356.95L1636.59 359.32L1639.89 361.67L1643.21 364L1646.54 366.3L1649.89 368.58L1653.24 370.84L1656.61 373.08L1659.99 375.3L1663.37 377.5L1666.76 379.69L1670.16 381.86L1673.56 384.02L1676.97 386.16L1680.39 388.28L1683.82 390.39L1687.25 392.49L1690.69 394.57L1694.13 396.64L1697.58 398.7L1701.04 400.74L1704.51 402.77L1707.98 404.79L1711.46 406.79L1714.95 408.79L1718.44 410.77L1721.94 412.74L1725.45 414.7L1728.96 416.66L1732.48 418.6L1736 420.53L1739.54 422.45L1743.08 424.36L1746.62 426.27L1750.17 428.16L1753.73 430.05L1757.29 431.92L1760.85 433.79L1764.42 435.65L1768 437.5L1771.58 439.35L1775.17 441.18L1778.76 443.01L1782.35 444.84L1785.95 446.65L1789.56 448.46L1793.17 450.26L1796.78 452.05L1800.39 453.84L1804.01 455.62L1807.63 457.4L1811.26 459.17L1814.89 460.94L1818.52 462.7L1822.15 464.45L1825.79 466.2L1829.43 467.95L1833.07 469.69L1836.72 471.42L1840.36 473.16L1844.01 474.89L1847.66 476.61L1851.31 478.33L1854.97 480.05L1858.62 481.77L1862.28 483.48L1865.94 485.19L1869.59 486.89L1873.25 488.6L1876.91 490.3L1880.57 492L1884.23 493.7L1887.89 495.4L1891.55 497.1L1895.21 498.79L1898.87 500.48L1902.53 502.18L1906.19 503.87L1909.85 505.57L1913.5 507.26L1917.16 508.97L1920.81 510.67L1924.45 512.39L1928.09 514.11L1931.73 515.83L1935.36 517.57L1938.98 519.32L1942.6 521.08L1946.21 522.86L1949.82 524.65L1953.41 526.46L1957 528.28L1960.57 530.12L1964.14 531.99L1967.69 533.87L1971.23 535.77L1974.76 537.7L1978.28 539.66L1981.79 541.63L1985.28 543.64L1988.75 545.67L1992.22 547.74L1995.66 549.83L1999.09 551.96L2002.51 554.12L2005.9 556.31L2009.28 558.54L2012.64 560.81L2015.98 563.11L2019.3 565.46L2022.59 567.85L2025.8 570.32L2028.88 572.9L2031.77 575.64L2034.41 578.57L2036.75 581.73L2038.74 585.16L2040.31 588.9L2041.41 592.97" fill="none" stroke="#1f77b4" stroke-width="5.9"/>
<path d="M1484 59.7V640.6H2068" fill="none" stroke="#000" stroke-width="3.5" stroke-linejoin="miter"/>
<line x1="1476.2" y1="147.9" x2="1484" y2="147.9" stroke="#000" stroke-width="3.5"/>
<line x1="1476.2" y1="256.95" x2="1484" y2="256.95" stroke="#000" stroke-width="3.5"/>
<line x1="1476.2" y1="366" x2="1484" y2="366" stroke="#000" stroke-width="3.5"/>
<line x1="1476.2" y1="475.05" x2="1484" y2="475.05" stroke="#000" stroke-width="3.5"/>
<line x1="1476.2" y1="584.1" x2="1484" y2="584.1" stroke="#000" stroke-width="3.5"/>
<line x1="1479.4" y1="115.07" x2="1484" y2="115.07" stroke="#000" stroke-width="2.2"/>
<line x1="1479.4" y1="95.87" x2="1484" y2="95.87" stroke="#000" stroke-width="2.2"/>
<line x1="1479.4" y1="82.25" x2="1484" y2="82.25" stroke="#000" stroke-width="2.2"/>
<line x1="1479.4" y1="71.68" x2="1484" y2="71.68" stroke="#000" stroke-width="2.2"/>
<line x1="1479.4" y1="63.04" x2="1484" y2="63.04" stroke="#000" stroke-width="2.2"/>
<line x1="1479.4" y1="224.12" x2="1484" y2="224.12" stroke="#000" stroke-width="2.2"/>
<line x1="1479.4" y1="204.92" x2="1484" y2="204.92" stroke="#000" stroke-width="2.2"/>
<line x1="1479.4" y1="191.3" x2="1484" y2="191.3" stroke="#000" stroke-width="2.2"/>
<line x1="1479.4" y1="180.73" x2="1484" y2="180.73" stroke="#000" stroke-width="2.2"/>
<line x1="1479.4" y1="172.09" x2="1484" y2="172.09" stroke="#000" stroke-width="2.2"/>
<line x1="1479.4" y1="164.79" x2="1484" y2="164.79" stroke="#000" stroke-width="2.2"/>
<line x1="1479.4" y1="158.47" x2="1484" y2="158.47" stroke="#000" stroke-width="2.2"/>
<line x1="1479.4" y1="152.89" x2="1484" y2="152.89" stroke="#000" stroke-width="2.2"/>
<line x1="1479.4" y1="333.17" x2="1484" y2="333.17" stroke="#000" stroke-width="2.2"/>
<line x1="1479.4" y1="313.97" x2="1484" y2="313.97" stroke="#000" stroke-width="2.2"/>
<line x1="1479.4" y1="300.35" x2="1484" y2="300.35" stroke="#000" stroke-width="2.2"/>
<line x1="1479.4" y1="289.78" x2="1484" y2="289.78" stroke="#000" stroke-width="2.2"/>
<line x1="1479.4" y1="281.14" x2="1484" y2="281.14" stroke="#000" stroke-width="2.2"/>
<line x1="1479.4" y1="273.84" x2="1484" y2="273.84" stroke="#000" stroke-width="2.2"/>
<line x1="1479.4" y1="267.52" x2="1484" y2="267.52" stroke="#000" stroke-width="2.2"/>
<line x1="1479.4" y1="261.94" x2="1484" y2="261.94" stroke="#000" stroke-width="2.2"/>
<line x1="1479.4" y1="442.22" x2="1484" y2="442.22" stroke="#000" stroke-width="2.2"/>
<line x1="1479.4" y1="423.02" x2="1484" y2="423.02" stroke="#000" stroke-width="2.2"/>
<line x1="1479.4" y1="409.4" x2="1484" y2="409.4" stroke="#000" stroke-width="2.2"/>
<line x1="1479.4" y1="398.83" x2="1484" y2="398.83" stroke="#000" stroke-width="2.2"/>
<line x1="1479.4" y1="390.19" x2="1484" y2="390.19" stroke="#000" stroke-width="2.2"/>
<line x1="1479.4" y1="382.89" x2="1484" y2="382.89" stroke="#000" stroke-width="2.2"/>
<line x1="1479.4" y1="376.57" x2="1484" y2="376.57" stroke="#000" stroke-width="2.2"/>
<line x1="1479.4" y1="370.99" x2="1484" y2="370.99" stroke="#000" stroke-width="2.2"/>
<line x1="1479.4" y1="551.27" x2="1484" y2="551.27" stroke="#000" stroke-width="2.2"/>
<line x1="1479.4" y1="532.07" x2="1484" y2="532.07" stroke="#000" stroke-width="2.2"/>
<line x1="1479.4" y1="518.45" x2="1484" y2="518.45" stroke="#000" stroke-width="2.2"/>
<line x1="1479.4" y1="507.88" x2="1484" y2="507.88" stroke="#000" stroke-width="2.2"/>
<line x1="1479.4" y1="499.24" x2="1484" y2="499.24" stroke="#000" stroke-width="2.2"/>
<line x1="1479.4" y1="491.94" x2="1484" y2="491.94" stroke="#000" stroke-width="2.2"/>
<line x1="1479.4" y1="485.62" x2="1484" y2="485.62" stroke="#000" stroke-width="2.2"/>
<line x1="1479.4" y1="480.04" x2="1484" y2="480.04" stroke="#000" stroke-width="2.2"/>
<line x1="1479.4" y1="627.5" x2="1484" y2="627.5" stroke="#000" stroke-width="2.2"/>
<line x1="1479.4" y1="616.93" x2="1484" y2="616.93" stroke="#000" stroke-width="2.2"/>
<line x1="1479.4" y1="608.29" x2="1484" y2="608.29" stroke="#000" stroke-width="2.2"/>
<line x1="1479.4" y1="600.99" x2="1484" y2="600.99" stroke="#000" stroke-width="2.2"/>
<line x1="1479.4" y1="594.67" x2="1484" y2="594.67" stroke="#000" stroke-width="2.2"/>
<line x1="1479.4" y1="589.09" x2="1484" y2="589.09" stroke="#000" stroke-width="2.2"/>
<text x="1413.8" y="159.5">10<tspan dy="-9.6" font-size="16.5">-2</tspan></text>
<text x="1413.8" y="374">10<tspan dy="-9.6" font-size="16.5">-4</tspan></text>
<text x="1413.8" y="598">10<tspan dy="-9.6" font-size="16.5">-6</tspan></text>
<line x1="1510" y1="640.6" x2="1510" y2="648.4" stroke="#000" stroke-width="3.4"/>
<text x="1511.2" y="670.9" text-anchor="middle">0</text>
<line x1="1616.2" y1="640.6" x2="1616.2" y2="648.4" stroke="#000" stroke-width="3.4"/>
<text x="1620.8" y="670.9" text-anchor="middle">100</text>
<line x1="1722.4" y1="640.6" x2="1722.4" y2="648.4" stroke="#000" stroke-width="3.4"/>
<text x="1727" y="670.9" text-anchor="middle">200</text>
<line x1="1828.6" y1="640.6" x2="1828.6" y2="648.4" stroke="#000" stroke-width="3.4"/>
<text x="1833.2" y="670.9" text-anchor="middle">300</text>
<line x1="1934.8" y1="640.6" x2="1934.8" y2="648.4" stroke="#000" stroke-width="3.4"/>
<text x="1939.4" y="670.9" text-anchor="middle">400</text>
<line x1="2041" y1="640.6" x2="2041" y2="648.4" stroke="#000" stroke-width="3.4"/>
<text x="2045.6" y="670.9" text-anchor="middle">500</text>
<text x="1794.6" y="699.1" text-anchor="middle">Eigenvalue index</text>
<text transform="translate(1407.4 337) rotate(-90)" text-anchor="middle">Eigenvalue</text>
<line x1="1828.5" y1="88.3" x2="1875.7" y2="88.3" stroke="#1f77b4" stroke-width="5.7"/>
<rect x="1829.2" y="110" width="45.8" height="17.8" fill="#cbcafa"/>
<text x="1890.3" y="95.5">Mean</text>
<text x="1890.3" y="126.4">5-95 percentile</text>
<text x="0.3" y="775.9" font-weight="bold">B.</text>
<text x="401.8" y="773.2" text-anchor="middle">BigGAN</text>
<rect x="123.9" y="815.4" width="5.52" height="573.69" fill="#7fa65c"/>
<rect x="129.42" y="1381.41" width="5.52" height="7.69" fill="#7fa65c"/>
<rect x="140.46" y="1383.33" width="5.52" height="5.77" fill="#7fa65c"/>
<rect x="145.98" y="1385.89" width="5.52" height="3.2" fill="#7fa65c"/>
<rect x="157.02" y="1388.46" width="5.52" height="0.64" fill="#7fa65c"/>
<rect x="162.54" y="1385.25" width="5.52" height="3.85" fill="#7fa65c"/>
<rect x="168.06" y="1388.46" width="5.52" height="0.64" fill="#7fa65c"/>
<rect x="173.58" y="1385.89" width="5.52" height="3.2" fill="#7fa65c"/>
<rect x="190.14" y="1387.82" width="5.52" height="1.28" fill="#7fa65c"/>
<rect x="195.66" y="1385.25" width="5.52" height="3.85" fill="#7fa65c"/>
<rect x="234.3" y="1387.18" width="5.52" height="1.92" fill="#7fa65c"/>
<rect x="256.38" y="1386.54" width="5.52" height="2.56" fill="#7fa65c"/>
<rect x="306.06" y="1386.54" width="5.52" height="2.56" fill="#7fa65c"/>
<path d="M96.6 785V1389.1H704.4" fill="none" stroke="#000" stroke-width="3.4" stroke-linejoin="miter"/>
<line x1="88.8" y1="876" x2="96.6" y2="876" stroke="#000" stroke-width="3.4"/>
<text x="85.3" y="884.5" text-anchor="end">800</text>
<line x1="88.8" y1="1004.15" x2="96.6" y2="1004.15" stroke="#000" stroke-width="3.4"/>
<text x="85.3" y="1012.65" text-anchor="end">600</text>
<line x1="88.8" y1="1132.3" x2="96.6" y2="1132.3" stroke="#000" stroke-width="3.4"/>
<text x="85.3" y="1140.8" text-anchor="end">400</text>
<line x1="88.8" y1="1260.45" x2="96.6" y2="1260.45" stroke="#000" stroke-width="3.4"/>
<text x="85.3" y="1268.95" text-anchor="end">200</text>
<line x1="88.8" y1="1389.1" x2="96.6" y2="1389.1" stroke="#000" stroke-width="3.4"/>
<text x="90.8" y="1397.1" text-anchor="end">0</text>
<line x1="123.9" y1="1389.1" x2="123.9" y2="1396.8" stroke="#000" stroke-width="3.6"/>
<text x="118.4" y="1424" text-anchor="middle">0</text>
<line x1="208.7" y1="1389.1" x2="208.7" y2="1396.8" stroke="#000" stroke-width="3.6"/>
<line x1="293.5" y1="1389.1" x2="293.5" y2="1396.8" stroke="#000" stroke-width="3.6"/>
<text x="288" y="1424" text-anchor="middle">20</text>
<line x1="378.3" y1="1389.1" x2="378.3" y2="1396.8" stroke="#000" stroke-width="3.6"/>
<line x1="463.1" y1="1389.1" x2="463.1" y2="1396.8" stroke="#000" stroke-width="3.6"/>
<text x="457.6" y="1424" text-anchor="middle">40</text>
<line x1="547.9" y1="1389.1" x2="547.9" y2="1396.8" stroke="#000" stroke-width="3.6"/>
<line x1="632.7" y1="1389.1" x2="632.7" y2="1396.8" stroke="#000" stroke-width="3.6"/>
<text x="627.2" y="1424" text-anchor="middle">60</text>
<text x="386.3" y="1460" text-anchor="middle">Number of zero eigenvalues</text>
<text transform="translate(29.2 1081) rotate(-90)" text-anchor="middle">Count</text>
<rect x="367.8" y="807.8" width="43.6" height="14.8" fill="#8fb8d9"/>
<text x="425.3" y="820.8">Threshold: 0</text>
<rect x="367.8" y="839.7" width="43.6" height="14.8" fill="#fdbd87"/>
<text x="425.3" y="852.8">Threshold: 1x10<tspan dy="-9.6" font-size="16.5">-8</tspan></text>
<rect x="367.8" y="871.6" width="43.6" height="14.8" fill="#98d097"/>
<text x="425.3" y="884.8">Threshold: 1x10<tspan dy="-9.6" font-size="16.5">-7</tspan></text>
<text x="742.6" y="775.4" font-weight="bold">D.</text>
<text x="1118.6" y="773.5" text-anchor="middle">DeePSim FC6</text>
<path d="M837.5 1389.1v-6.83h1.04v6.83zM840.5 1389.1v-6.83h1.04v6.83zM841.5 1389.1v-6.83h1.04v6.83zM844.5 1389.1v-13.65h1.04v13.65zM845.5 1389.1v-20.48h1.04v20.48zM846.5 1389.1v-27.31h1.04v27.31zM847.5 1389.1v-31.41h1.04v31.41zM848.5 1389.1v-40.96h1.04v40.96zM849.5 1389.1v-68.27h1.04v68.27zM850.5 1389.1v-81.93h1.04v81.93zM851.5 1389.1v-95.58h1.04v95.58zM852.5 1389.1v-102.41h1.04v102.41zM853.5 1389.1v-102.41h1.04v102.41zM854.5 1389.1v-109.24h1.04v109.24zM855.5 1389.1v-122.89h1.04v122.89zM856.5 1389.1v-150.2h1.04v150.2zM857.5 1389.1v-163.86h1.04v163.86zM858.5 1389.1v-191.17h1.04v191.17zM859.5 1389.1v-232.13h1.04v232.13zM860.5 1389.1v-266.27h1.04v266.27zM861.5 1389.1v-293.58h1.04v293.58zM862.5 1389.1v-314.06h1.04v314.06zM863.5 1389.1v-341.38h1.04v341.38zM864.5 1389.1v-355.03h1.04v355.03zM865.5 1389.1v-327.72h1.04v327.72zM866.5 1389.1v-259.44h1.04v259.44zM867.5 1389.1v-327.72h1.04v327.72zM868.5 1389.1v-355.03h1.04v355.03zM869.5 1389.1v-389.17h1.04v389.17zM870.5 1389.1v-382.34h1.04v382.34zM871.5 1389.1v-368.69h1.04v368.69zM872.5 1389.1v-355.03h1.04v355.03zM873.5 1389.1v-341.38h1.04v341.38zM874.5 1389.1v-327.72h1.04v327.72zM875.5 1389.1v-314.06h1.04v314.06zM876.5 1389.1v-286.75h1.04v286.75zM877.5 1389.1v-259.44h1.04v259.44zM878.5 1389.1v-225.31h1.04v225.31zM879.5 1389.1v-198h1.04v198zM880.5 1389.1v-170.69h1.04v170.69zM881.5 1389.1v-150.2h1.04v150.2zM882.5 1389.1v-109.24h1.04v109.24zM883.5 1389.1v-75.1h1.04v75.1zM884.5 1389.1v-54.62h1.04v54.62zM885.5 1389.1v-40.96h1.04v40.96zM886.5 1389.1v-20.48h1.04v20.48zM887.5 1389.1v-16.39h1.04v16.39zM888.5 1389.1v-13.65h1.04v13.65zM889.5 1389.1v-13.65h1.04v13.65zM890.5 1389.1v-13.65h1.04v13.65z" fill="#9fc5e1"/>
<path d="M865.4 1389.1v-464.27h0.9v464.27zM870 1389.1v-477.92h0.9v477.92zM872.6 1389.1v-436.96h0.8v436.96zM874.3 1389.1v-396h0.8v396zM857 1389.1v-204.82h0.7v204.82zM880.6 1389.1v-204.82h0.7v204.82zM863.2 1389.1v-368.69h0.7v368.69zM868.3 1389.1v-396h0.7v396zM876.4 1389.1v-355.03h0.7v355.03zM891.4 1389.1v-27.31h0.6v27.31zM843 1389.1v-27.31h0.5v27.31z" fill="#a9cbe4"/>
<path d="M866.9 1184.27v-122.89h0.5v122.89zM862.1 1252.55v-136.55h0.5v136.55zM873.5 1225.24v-191.17h0.5v191.17zM859.3 1361.79v-136.55h0.5v136.55zM877.6 1334.48v-218.48h0.5v218.48zM870.9 1116v-109.24h0.5v109.24z" fill="#cfe2f1"/>
<path d="M1313.5 1389.1v-122.89h1.04v122.89zM1314.5 1389.1v-163.86h1.04v163.86zM1315.5 1389.1v-218.48h1.04v218.48zM1316.5 1389.1v-273.1h1.04v273.1zM1317.5 1389.1v-300.41h1.04v300.41zM1318.5 1389.1v-327.72h1.04v327.72zM1319.5 1389.1v-355.03h1.04v355.03zM1320.5 1389.1v-368.69h1.04v368.69zM1321.5 1389.1v-382.34h1.04v382.34zM1322.5 1389.1v-396h1.04v396zM1323.5 1389.1v-409.65h1.04v409.65zM1324.5 1389.1v-423.31h1.04v423.31zM1325.5 1389.1v-436.96h1.04v436.96zM1326.5 1389.1v-436.96h1.04v436.96zM1327.5 1389.1v-423.31h1.04v423.31zM1328.5 1389.1v-423.31h1.04v423.31zM1329.5 1389.1v-423.31h1.04v423.31zM1330.5 1389.1v-409.65h1.04v409.65zM1331.5 1389.1v-368.69h1.04v368.69zM1332.5 1389.1v-300.41h1.04v300.41zM1333.5 1389.1v-273.1h1.04v273.1zM1334.5 1389.1v-232.13h1.04v232.13zM1335.5 1389.1v-191.17h1.04v191.17zM1336.5 1389.1v-163.86h1.04v163.86zM1337.5 1389.1v-122.89h1.04v122.89z" fill="#fec590"/>
<path d="M1326.3 1389.1v-573.51h0.8v573.51zM1320.6 1389.1v-450.61h0.7v450.61zM1324.6 1389.1v-464.27h0.8v464.27zM1329 1389.1v-464.27h0.8v464.27zM1330.6 1389.1v-464.27h0.7v464.27zM1333.6 1389.1v-368.69h0.6v368.69zM1334.6 1389.1v-368.69h0.6v368.69zM1312.8 1389.1v-218.48h0.6v218.48zM1312.2 1389.1v-177.51h0.6v177.51zM1308.3 1389.1v-68.27h0.6v68.27zM1300.3 1389.1v-13.65h0.5v13.65zM1302.2 1389.1v-13.65h0.5v13.65zM1304 1389.1v-13.65h0.5v13.65z" fill="#fecb9b"/>
<path d="M1304.7 1389.1v-13.65H1308.2V1389.1zM1308.2 1389.1v-54.62H1312.1V1389.1zM1312.1 1389.1v-95.58H1315.8V1389.1zM1315.8 1389.1v-109.24H1318V1389.1zM1318.6 1389.1v-54.62H1319.6V1389.1zM1334.2 1389.1v-68.27H1336V1389.1zM1335.2 1389.1v-109.24H1336V1389.1zM1337.9 1389.1v-54.62H1339.7V1389.1zM1339.7 1389.1v-13.65H1343.8V1389.1z" fill="#fd942f"/>
<path d="M1368.5 1389.1v-122.89h1.04v122.89zM1369.5 1389.1v-163.86h1.04v163.86zM1370.5 1389.1v-204.82h1.04v204.82zM1371.5 1389.1v-259.44h1.04v259.44zM1372.5 1389.1v-286.75h1.04v286.75zM1373.5 1389.1v-314.06h1.04v314.06zM1374.5 1389.1v-327.72h1.04v327.72zM1375.5 1389.1v-341.38h1.04v341.38zM1376.5 1389.1v-341.38h1.04v341.38zM1377.5 1389.1v-341.38h1.04v341.38zM1378.5 1389.1v-341.38h1.04v341.38zM1379.5 1389.1v-327.72h1.04v327.72zM1380.5 1389.1v-300.41h1.04v300.41zM1381.5 1389.1v-273.1h1.04v273.1zM1382.5 1389.1v-218.48h1.04v218.48zM1383.5 1389.1v-150.2h1.04v150.2z" fill="#9dd09d"/>
<path d="M1376.2 1389.1v-396h0.8v396zM1379.2 1389.1v-396h0.8v396zM1375.3 1389.1v-368.69h0.7v368.69zM1370.8 1389.1v-245.79h0.6v245.79zM1383.1 1389.1v-177.51h0.6v177.51z" fill="#a9d6a9"/>
<path d="M1360.2 1389.1v-13.65H1365.1V1389.1zM1365.1 1389.1v-27.31H1366.4V1389.1zM1366.4 1389.1v-68.27H1367.6V1389.1zM1367.6 1389.1v-81.93H1369.8V1389.1zM1369.8 1389.1v-109.24H1372V1389.1zM1382.1 1389.1v-109.24H1384.8V1389.1zM1384.8 1389.1v-81.93H1386V1389.1zM1386 1389.1v-68.27H1387V1389.1zM1388.2 1389.1v-27.31H1389.7V1389.1z" fill="#3fa93f"/>
<path d="M1371.2 1389.1v-109.24h0.6v109.24zM1383 1389.1v-109.24h0.6v109.24z" fill="#9dd09d"/>
<path d="M811.2 785V1389.1H1418.9" fill="none" stroke="#000" stroke-width="3.4" stroke-linejoin="miter"/>
<line x1="803.2" y1="842.5" x2="811.2" y2="842.5" stroke="#000" stroke-width="3.4"/>
<text x="789.5" y="851" text-anchor="end">40</text>
<line x1="803.2" y1="910.77" x2="811.2" y2="910.77" stroke="#000" stroke-width="3.4"/>
<line x1="803.2" y1="979.04" x2="811.2" y2="979.04" stroke="#000" stroke-width="3.4"/>
<text x="789.5" y="987.54" text-anchor="end">30</text>
<line x1="803.2" y1="1047.31" x2="811.2" y2="1047.31" stroke="#000" stroke-width="3.4"/>
<line x1="803.2" y1="1115.58" x2="811.2" y2="1115.58" stroke="#000" stroke-width="3.4"/>
<text x="789.5" y="1124.08" text-anchor="end">20</text>
<line x1="803.2" y1="1183.85" x2="811.2" y2="1183.85" stroke="#000" stroke-width="3.4"/>
<line x1="803.2" y1="1252.12" x2="811.2" y2="1252.12" stroke="#000" stroke-width="3.4"/>
<text x="789.5" y="1260.62" text-anchor="end">10</text>
<line x1="803.2" y1="1320.39" x2="811.2" y2="1320.39" stroke="#000" stroke-width="3.4"/>
<line x1="803.2" y1="1389.16" x2="811.2" y2="1389.16" stroke="#000" stroke-width="3.4"/>
<text x="793.6" y="1397.16" text-anchor="end">0</text>
<line x1="882.7" y1="1389.1" x2="882.7" y2="1396.8" stroke="#000" stroke-width="3.6"/>
<text x="879.9" y="1423.8" text-anchor="middle">1750</text>
<line x1="958.57" y1="1389.1" x2="958.57" y2="1396.8" stroke="#000" stroke-width="3.6"/>
<line x1="1034.44" y1="1389.1" x2="1034.44" y2="1396.8" stroke="#000" stroke-width="3.6"/>
<text x="1031.64" y="1423.8" text-anchor="middle">2250</text>
<line x1="1110.31" y1="1389.1" x2="1110.31" y2="1396.8" stroke="#000" stroke-width="3.6"/>
<line x1="1186.18" y1="1389.1" x2="1186.18" y2="1396.8" stroke="#000" stroke-width="3.6"/>
<text x="1183.38" y="1423.8" text-anchor="middle">2750</text>
<line x1="1262.05" y1="1389.1" x2="1262.05" y2="1396.8" stroke="#000" stroke-width="3.6"/>
<line x1="1337.92" y1="1389.1" x2="1337.92" y2="1396.8" stroke="#000" stroke-width="3.6"/>
<text x="1335.12" y="1423.8" text-anchor="middle">3250</text>
<line x1="1413.79" y1="1389.1" x2="1413.79" y2="1396.8" stroke="#000" stroke-width="3.6"/>
<text x="1118.2" y="1459.9" text-anchor="middle">Number of zero eigenvalues</text>
<text transform="translate(736.9 1081) rotate(-90)" text-anchor="middle">Count</text>
<rect x="830.5" y="807.6" width="43.7" height="15" fill="#8fb8d9"/>
<text x="891.9" y="823">Threshold: 0</text>
<rect x="830.5" y="839.7" width="43.7" height="15" fill="#fdbd87"/>
<text x="891.9" y="855.1">Threshold: 1x10<tspan dy="-9.6" font-size="16.5">-8</tspan></text>
<rect x="830.5" y="871.8" width="43.7" height="15" fill="#98d097"/>
<text x="891.9" y="887.2">Threshold: 1x10<tspan dy="-9.6" font-size="16.5">-7</tspan></text>
<text x="1436.6" y="730.3" font-weight="bold">F.</text>
<text x="1804.3" y="740.3" text-anchor="middle">Euclidean distance in latent space</text>
<text x="1545.1" y="776.5" text-anchor="middle">0</text>
<text x="1683" y="776.5" text-anchor="middle">0.25</text>
<text x="1809.5" y="776.5" text-anchor="middle">0.50</text>
<text x="1956.7" y="776.5" text-anchor="middle">0.75</text>
<text x="2084.6" y="776.5" text-anchor="middle">1.00</text>
<rect x="1471.3" y="788.3" width="697.7" height="139.8" fill="url(#sky)"/>
<use href="#bird" x="0" y="0"/>
<use href="#bird" x="139.2" y="0"/>
<use href="#bird" x="278.3" y="0"/>
<use href="#bird" x="418.4" y="0"/>
<use href="#bird" x="557" y="0"/>
<line x1="1471.3" y1="788.3" x2="1471.3" y2="928.1" stroke="#0b0b14" stroke-width="1.3"/>
<line x1="1610.5" y1="788.3" x2="1610.5" y2="928.1" stroke="#0b0b14" stroke-width="1.3"/>
<line x1="1749.6" y1="788.3" x2="1749.6" y2="928.1" stroke="#0b0b14" stroke-width="1.3"/>
<line x1="1889.7" y1="788.3" x2="1889.7" y2="928.1" stroke="#0b0b14" stroke-width="1.3"/>
<line x1="2028.3" y1="788.3" x2="2028.3" y2="928.1" stroke="#0b0b14" stroke-width="1.3"/>
<line x1="1470.65" y1="788.3" x2="2167" y2="788.3" stroke="#0b0b14" stroke-width="1.3"/>
<line x1="1470.65" y1="928.1" x2="2167" y2="928.1" stroke="#0b0b14" stroke-width="1.3"/>
<polyline points="1596.6,1053.4 1730.9,1047.1 1865,1036 1999.5,1014.5 2133.3,938.6" fill="none" stroke="#1f77b4" stroke-width="5" stroke-linejoin="round"/>
<circle cx="1596.6" cy="1053.4" r="6.3" fill="#1f77b4"/>
<circle cx="1730.9" cy="1047.1" r="6.3" fill="#1f77b4"/>
<circle cx="1865" cy="1036" r="6.3" fill="#1f77b4"/>
<circle cx="1999.5" cy="1014.5" r="6.3" fill="#1f77b4"/>
<circle cx="2133.3" cy="938.6" r="6.3" fill="#1f77b4"/>
<path d="M1570 931.3V1059H2162" fill="none" stroke="#000" stroke-width="2.8" stroke-linejoin="miter"/>
<line x1="1563.6" y1="959.3" x2="1570" y2="959.3" stroke="#000" stroke-width="2.6"/>
<text x="1548.7" y="969.5" text-anchor="end">1.0</text>
<line x1="1563.6" y1="1006.5" x2="1570" y2="1006.5" stroke="#000" stroke-width="2.6"/>
<text x="1548.7" y="1016.7" text-anchor="end">0.5</text>
<line x1="1563.6" y1="1053.4" x2="1570" y2="1053.4" stroke="#000" stroke-width="2.6"/>
<text x="1548.7" y="1063.6" text-anchor="end">0.0</text>
<line x1="1596.6" y1="1059" x2="1596.6" y2="1065" stroke="#000" stroke-width="2.6"/>
<text x="1586.3" y="1096.1" text-anchor="middle">0.0</text>
<line x1="1703.95" y1="1059" x2="1703.95" y2="1065" stroke="#000" stroke-width="2.6"/>
<text x="1693.65" y="1096.1" text-anchor="middle">0.2</text>
<line x1="1811.3" y1="1059" x2="1811.3" y2="1065" stroke="#000" stroke-width="2.6"/>
<text x="1801" y="1096.1" text-anchor="middle">0.4</text>
<line x1="1918.65" y1="1059" x2="1918.65" y2="1065" stroke="#000" stroke-width="2.6"/>
<text x="1908.35" y="1096.1" text-anchor="middle">0.6</text>
<line x1="2026" y1="1059" x2="2026" y2="1065" stroke="#000" stroke-width="2.6"/>
<text x="2015.7" y="1096.1" text-anchor="middle">0.8</text>
<line x1="2133.35" y1="1059" x2="2133.35" y2="1065" stroke="#000" stroke-width="2.6"/>
<text x="2123.05" y="1096.1" text-anchor="middle">1.0</text>
<text x="1592.4" y="964.4">1x10<tspan dy="-9.7" font-size="16.5">-5</tspan></text>
<text x="2079" y="1047.6">alpha</text>
<text transform="translate(1495.8 1020.1) rotate(-90)" text-anchor="middle">pixel MSE</text>
<use href="#gan" x="0" y="0"/>
<use href="#gan" x="139" y="0"/>
<use href="#gan" x="278.2" y="0"/>
<use href="#gan" x="417.4" y="0"/>
<use href="#gan" x="556.4" y="0"/>
<line x1="1468.4" y1="1129.4" x2="1468.4" y2="1269.2" stroke="#0b0b0b" stroke-width="1.3"/>
<line x1="1607.4" y1="1129.4" x2="1607.4" y2="1269.2" stroke="#0b0b0b" stroke-width="1.3"/>
<line x1="1746.6" y1="1129.4" x2="1746.6" y2="1269.2" stroke="#0b0b0b" stroke-width="1.3"/>
<line x1="1885.8" y1="1129.4" x2="1885.8" y2="1269.2" stroke="#0b0b0b" stroke-width="1.3"/>
<line x1="2024.8" y1="1129.4" x2="2024.8" y2="1269.2" stroke="#0b0b0b" stroke-width="1.3"/>
<line x1="2164" y1="1129.4" x2="2164" y2="1269.2" stroke="#0b0b0b" stroke-width="1.3"/>
<line x1="1467.75" y1="1129.4" x2="2164.65" y2="1129.4" stroke="#0b0b0b" stroke-width="1.3"/>
<line x1="1467.75" y1="1269.2" x2="2164.65" y2="1269.2" stroke="#0b0b0b" stroke-width="1.3"/>
<polyline points="1576.1,1420.4 1716.3,1328.4 1856.9,1320.1 1997.1,1304.5 2137.6,1300.1" fill="none" stroke="#1f77b4" stroke-width="5" stroke-linejoin="round"/>
<circle cx="1576.1" cy="1420.4" r="6.3" fill="#1f77b4"/>
<circle cx="1716.3" cy="1328.4" r="6.3" fill="#1f77b4"/>
<circle cx="1856.9" cy="1320.1" r="6.3" fill="#1f77b4"/>
<circle cx="1997.1" cy="1304.5" r="6.3" fill="#1f77b4"/>
<circle cx="2137.6" cy="1300.1" r="6.3" fill="#1f77b4"/>
<path d="M1548.6 1292.2V1426.2H2168" fill="none" stroke="#000" stroke-width="2.8" stroke-linejoin="miter"/>
<line x1="1542" y1="1309.6" x2="1548.6" y2="1309.6" stroke="#000" stroke-width="2.6"/>
<text x="1534.8" y="1318.9" text-anchor="end">2</text>
<line x1="1542" y1="1364.8" x2="1548.6" y2="1364.8" stroke="#000" stroke-width="2.6"/>
<text x="1534.8" y="1374.1" text-anchor="end">1</text>
<line x1="1542" y1="1420.1" x2="1548.6" y2="1420.1" stroke="#000" stroke-width="2.6"/>
<text x="1534.8" y="1429.4" text-anchor="end">0</text>
<line x1="1576.1" y1="1426.2" x2="1576.1" y2="1432.2" stroke="#000" stroke-width="2.6"/>
<text x="1568.5" y="1461.2" text-anchor="middle">0.0</text>
<line x1="1688.4" y1="1426.2" x2="1688.4" y2="1432.2" stroke="#000" stroke-width="2.6"/>
<text x="1680.8" y="1461.2" text-anchor="middle">0.2</text>
<line x1="1800.7" y1="1426.2" x2="1800.7" y2="1432.2" stroke="#000" stroke-width="2.6"/>
<text x="1793.1" y="1461.2" text-anchor="middle">0.4</text>
<line x1="1913" y1="1426.2" x2="1913" y2="1432.2" stroke="#000" stroke-width="2.6"/>
<text x="1905.4" y="1461.2" text-anchor="middle">0.6</text>
<line x1="2025.3" y1="1426.2" x2="2025.3" y2="1432.2" stroke="#000" stroke-width="2.6"/>
<text x="2017.7" y="1461.2" text-anchor="middle">0.8</text>
<line x1="2137.6" y1="1426.2" x2="2137.6" y2="1432.2" stroke="#000" stroke-width="2.6"/>
<text x="2130" y="1461.2" text-anchor="middle">1.0</text>
<text x="1559.4" y="1314">1x10<tspan dy="-9.7" font-size="16.5">-8</tspan></text>
<text x="2075.5" y="1411.4">alpha</text>
<text transform="translate(1509.6 1381.8) rotate(-90)" text-anchor="middle">pixel MSE</text>
</svg></body></html>
